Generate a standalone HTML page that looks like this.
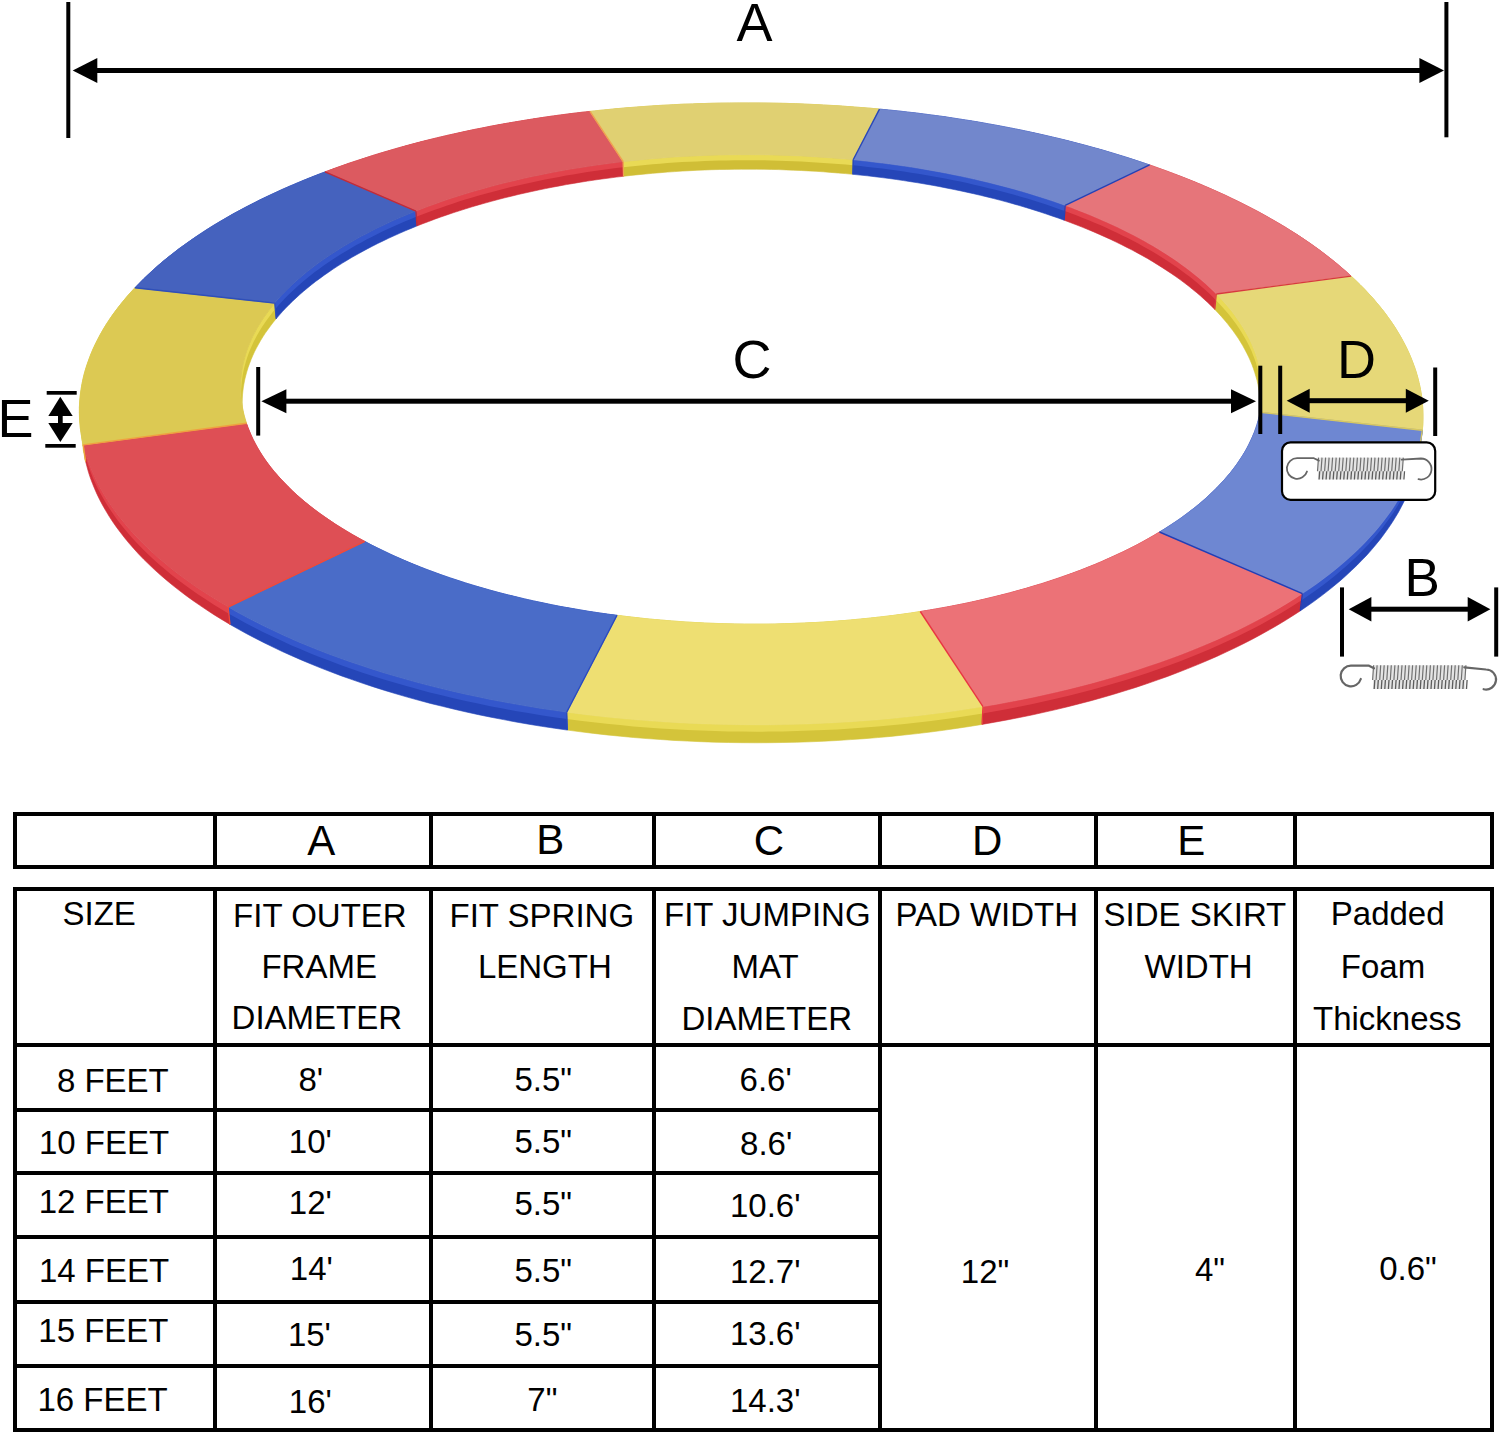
<!DOCTYPE html>
<html><head><meta charset="utf-8"><style>
html,body{margin:0;padding:0;background:#fff;}
body{width:1500px;height:1434px;position:relative;overflow:hidden;font-family:"Liberation Sans",sans-serif;color:#000;}
svg{position:absolute;left:0;top:0;}
.l{position:absolute;background:#000;}
.t{position:absolute;line-height:1;white-space:nowrap;}
.big{position:absolute;line-height:1;white-space:nowrap;}
</style></head><body>
<svg width="1500" height="800" viewBox="0 0 1500 800">
<polygon points="325.0,171.9 332.6,169.1 340.4,166.3 348.2,163.5 356.1,160.9 364.1,158.3 372.1,155.7 380.2,153.2 388.4,150.8 396.6,148.4 404.9,146.1 413.3,143.8 421.7,141.6 430.1,139.5 438.7,137.4 447.2,135.4 455.8,133.5 464.5,131.6 473.2,129.7 482.0,128.0 490.8,126.2 499.6,124.6 508.5,123.0 517.4,121.5 526.4,120.0 535.4,118.6 544.4,117.2 553.4,115.9 562.5,114.7 571.7,113.5 580.8,112.4 590.0,111.4 590.4,125.5 581.2,126.6 572.1,127.7 563.0,128.9 553.9,130.1 544.9,131.4 535.9,132.8 526.9,134.2 518.0,135.7 509.1,137.2 500.3,138.8 491.5,140.5 482.7,142.2 473.9,144.0 465.3,145.9 456.6,147.8 448.0,149.8 439.5,151.8 431.0,153.9 422.6,156.0 414.2,158.2 405.9,160.5 397.6,162.8 389.4,165.2 381.3,167.7 373.2,170.2 365.2,172.8 357.2,175.4 349.3,178.1 341.5,180.9 333.8,183.7 326.2,186.5" fill="#CF2E38" stroke="#CF2E38" stroke-width="0.6"/>
<polygon points="415.9,211.2 421.8,208.9 427.8,206.6 433.8,204.4 439.9,202.2 446.1,200.1 452.3,198.0 458.6,196.0 464.9,194.0 471.3,192.1 477.8,190.2 484.3,188.4 490.8,186.6 497.4,184.8 504.1,183.1 510.8,181.5 517.5,179.9 524.3,178.3 531.1,176.8 538.0,175.4 544.9,174.0 551.9,172.6 558.9,171.3 565.9,170.0 573.0,168.8 580.1,167.7 587.2,166.6 594.3,165.5 601.5,164.5 608.7,163.5 616.0,162.6 623.2,161.7 623.5,176.3 616.3,177.1 609.1,178.1 601.9,179.0 594.7,180.0 587.6,181.1 580.5,182.2 573.4,183.4 566.4,184.6 559.4,185.9 552.4,187.2 545.5,188.6 538.6,190.0 531.7,191.5 524.9,193.0 518.2,194.5 511.4,196.2 504.7,197.8 498.1,199.5 491.5,201.3 485.0,203.1 478.5,204.9 472.1,206.8 465.7,208.8 459.4,210.8 453.1,212.8 446.9,214.9 440.8,217.0 434.7,219.2 428.7,221.5 422.7,223.7 416.9,226.0" fill="#CF2E38" stroke="#CF2E38" stroke-width="0.6"/>
<polygon points="325.0,171.9 332.6,169.1 340.4,166.3 348.2,163.5 356.1,160.9 364.1,158.3 372.1,155.7 380.2,153.2 388.4,150.8 396.6,148.4 404.9,146.1 413.3,143.8 421.7,141.6 430.1,139.5 438.7,137.4 447.2,135.4 455.8,133.5 464.5,131.6 473.2,129.7 482.0,128.0 490.8,126.2 499.6,124.6 508.5,123.0 517.4,121.5 526.4,120.0 535.4,118.6 544.4,117.2 553.4,115.9 562.5,114.7 571.7,113.5 580.8,112.4 590.0,111.4 590.1,116.8 581.0,117.8 571.8,118.9 562.7,120.1 553.6,121.3 544.6,122.6 535.6,124.0 526.6,125.4 517.6,126.9 508.7,128.4 499.9,130.0 491.0,131.7 482.2,133.4 473.5,135.2 464.8,137.0 456.1,138.9 447.5,140.9 439.0,142.9 430.5,145.0 422.0,147.1 413.6,149.3 405.3,151.6 397.0,153.9 388.8,156.3 380.6,158.7 372.5,161.2 364.5,163.8 356.5,166.4 348.7,169.1 340.8,171.8 333.1,174.6 325.4,177.5" fill="#E2434C"/>
<polygon points="415.9,211.2 421.8,208.9 427.8,206.6 433.8,204.4 439.9,202.2 446.1,200.1 452.3,198.0 458.6,196.0 464.9,194.0 471.3,192.1 477.8,190.2 484.3,188.4 490.8,186.6 497.4,184.8 504.1,183.1 510.8,181.5 517.5,179.9 524.3,178.3 531.1,176.8 538.0,175.4 544.9,174.0 551.9,172.6 558.9,171.3 565.9,170.0 573.0,168.8 580.1,167.7 587.2,166.6 594.3,165.5 601.5,164.5 608.7,163.5 616.0,162.6 623.2,161.7 623.4,167.3 616.1,168.1 608.9,169.1 601.7,170.0 594.5,171.0 587.3,172.1 580.2,173.2 573.1,174.4 566.1,175.6 559.1,176.9 552.1,178.2 545.1,179.5 538.2,180.9 531.4,182.4 524.5,183.9 517.8,185.5 511.0,187.1 504.3,188.7 497.7,190.4 491.1,192.2 484.5,194.0 478.0,195.8 471.6,197.7 465.2,199.6 458.9,201.6 452.6,203.7 446.4,205.7 440.3,207.9 434.2,210.0 428.1,212.3 422.2,214.5 416.3,216.8" fill="#E2434C"/>
<polygon points="590.0,111.4 599.2,110.4 608.4,109.5 617.6,108.6 626.9,107.8 636.2,107.1 645.5,106.4 654.8,105.7 664.1,105.2 673.5,104.7 682.8,104.2 692.2,103.9 701.6,103.6 711.0,103.3 720.3,103.1 729.7,103.0 739.1,102.9 748.5,102.9 757.9,102.9 767.3,103.0 776.7,103.2 786.1,103.4 795.5,103.7 804.9,104.1 814.2,104.5 823.6,105.0 833.0,105.5 842.3,106.1 851.6,106.8 860.9,107.5 870.2,108.2 879.5,109.1 879.1,123.2 869.8,122.4 860.6,121.6 851.3,120.9 842.0,120.2 832.7,119.6 823.3,119.1 814.0,118.6 804.7,118.2 795.3,117.8 785.9,117.5 776.6,117.3 767.2,117.1 757.8,117.0 748.5,117.0 739.1,117.0 729.7,117.1 720.4,117.2 711.0,117.4 701.6,117.6 692.3,118.0 683.0,118.3 673.6,118.8 664.3,119.3 655.0,119.9 645.7,120.5 636.4,121.2 627.2,121.9 618.0,122.7 608.7,123.6 599.5,124.5 590.4,125.5" fill="#D0BE36" stroke="#D0BE36" stroke-width="0.6"/>
<polygon points="623.2,161.7 630.5,160.9 637.8,160.2 645.2,159.4 652.5,158.8 659.9,158.2 667.2,157.6 674.6,157.1 682.0,156.6 689.5,156.2 696.9,155.9 704.3,155.5 711.8,155.3 719.3,155.1 726.7,154.9 734.2,154.8 741.7,154.7 749.1,154.7 756.6,154.8 764.1,154.8 771.5,155.0 779.0,155.2 786.5,155.4 793.9,155.7 801.4,156.0 808.8,156.4 816.2,156.9 823.7,157.4 831.1,157.9 838.5,158.5 845.8,159.1 853.2,159.8 852.8,174.3 845.5,173.6 838.1,173.0 830.8,172.4 823.4,171.8 816.0,171.3 808.6,170.9 801.2,170.5 793.7,170.2 786.3,169.9 778.9,169.6 771.4,169.4 764.0,169.3 756.5,169.2 749.1,169.2 741.6,169.2 734.2,169.3 726.7,169.4 719.3,169.5 711.8,169.7 704.4,170.0 697.0,170.3 689.6,170.7 682.2,171.1 674.8,171.6 667.4,172.1 660.1,172.7 652.7,173.3 645.4,174.0 638.1,174.7 630.8,175.4 623.5,176.3" fill="#D0BE36" stroke="#D0BE36" stroke-width="0.6"/>
<polygon points="590.0,111.4 599.2,110.4 608.4,109.5 617.6,108.6 626.9,107.8 636.2,107.1 645.5,106.4 654.8,105.7 664.1,105.2 673.5,104.7 682.8,104.2 692.2,103.9 701.6,103.6 711.0,103.3 720.3,103.1 729.7,103.0 739.1,102.9 748.5,102.9 757.9,102.9 767.3,103.0 776.7,103.2 786.1,103.4 795.5,103.7 804.9,104.1 814.2,104.5 823.6,105.0 833.0,105.5 842.3,106.1 851.6,106.8 860.9,107.5 870.2,108.2 879.5,109.1 879.3,114.5 870.1,113.6 860.8,112.8 851.5,112.1 842.2,111.5 832.8,110.9 823.5,110.3 814.2,109.9 804.8,109.4 795.4,109.1 786.0,108.8 776.7,108.6 767.3,108.4 757.9,108.3 748.5,108.2 739.1,108.3 729.7,108.3 720.4,108.5 711.0,108.7 701.6,108.9 692.2,109.2 682.9,109.6 673.5,110.1 664.2,110.6 654.9,111.1 645.6,111.7 636.3,112.4 627.0,113.2 617.8,114.0 608.5,114.8 599.3,115.8 590.1,116.8" fill="#E9DA55"/>
<polygon points="623.2,161.7 630.5,160.9 637.8,160.2 645.2,159.4 652.5,158.8 659.9,158.2 667.2,157.6 674.6,157.1 682.0,156.6 689.5,156.2 696.9,155.9 704.3,155.5 711.8,155.3 719.3,155.1 726.7,154.9 734.2,154.8 741.7,154.7 749.1,154.7 756.6,154.8 764.1,154.8 771.5,155.0 779.0,155.2 786.5,155.4 793.9,155.7 801.4,156.0 808.8,156.4 816.2,156.9 823.7,157.4 831.1,157.9 838.5,158.5 845.8,159.1 853.2,159.8 853.0,165.3 845.7,164.6 838.3,164.0 831.0,163.4 823.6,162.9 816.1,162.4 808.7,161.9 801.3,161.5 793.9,161.2 786.4,160.9 779.0,160.7 771.5,160.5 764.0,160.3 756.6,160.3 749.1,160.2 741.6,160.2 734.2,160.3 726.7,160.4 719.3,160.6 711.8,160.8 704.4,161.0 696.9,161.4 689.5,161.7 682.1,162.1 674.7,162.6 667.3,163.1 659.9,163.7 652.6,164.3 645.2,165.0 637.9,165.7 630.6,166.5 623.4,167.3" fill="#E9DA55"/>
<polygon points="879.5,109.1 888.7,110.0 898.0,110.9 907.2,112.0 916.4,113.0 925.5,114.2 934.7,115.4 943.8,116.6 952.8,118.0 961.9,119.4 970.9,120.8 979.9,122.3 988.8,123.9 997.7,125.5 1006.6,127.2 1015.4,128.9 1024.2,130.7 1032.9,132.6 1041.6,134.5 1050.2,136.5 1058.8,138.5 1067.3,140.6 1075.8,142.8 1084.3,145.0 1092.6,147.3 1101.0,149.6 1109.2,152.0 1117.4,154.5 1125.6,157.0 1133.6,159.6 1141.6,162.2 1149.6,164.9 1148.3,179.5 1140.4,176.7 1132.5,174.1 1124.4,171.5 1116.3,169.0 1108.1,166.5 1099.9,164.1 1091.6,161.7 1083.2,159.4 1074.8,157.2 1066.4,155.0 1057.9,152.9 1049.3,150.8 1040.7,148.8 1032.0,146.9 1023.3,145.0 1014.6,143.2 1005.8,141.4 996.9,139.7 988.1,138.1 979.1,136.5 970.2,135.0 961.2,133.5 952.2,132.2 943.2,130.8 934.1,129.6 925.0,128.3 915.8,127.2 906.7,126.1 897.5,125.1 888.3,124.1 879.1,123.2" fill="#2546B8" stroke="#2546B8" stroke-width="0.6"/>
<polygon points="853.2,159.8 860.5,160.5 867.8,161.3 875.1,162.2 882.4,163.1 889.7,164.0 896.9,165.0 904.1,166.0 911.3,167.1 918.4,168.2 925.5,169.4 932.6,170.7 939.6,171.9 946.6,173.3 953.6,174.7 960.5,176.1 967.4,177.6 974.3,179.1 981.1,180.7 987.9,182.3 994.6,184.0 1001.3,185.7 1007.9,187.4 1014.5,189.2 1021.0,191.1 1027.5,193.0 1033.9,195.0 1040.3,197.0 1046.6,199.0 1052.9,201.1 1059.1,203.2 1065.2,205.4 1064.2,220.2 1058.1,218.0 1051.9,215.9 1045.7,213.8 1039.4,211.7 1033.0,209.7 1026.6,207.7 1020.2,205.8 1013.6,203.9 1007.1,202.1 1000.5,200.3 993.8,198.6 987.1,196.9 980.4,195.3 973.6,193.7 966.7,192.2 959.9,190.7 952.9,189.3 946.0,187.9 939.0,186.5 932.0,185.2 924.9,184.0 917.8,182.8 910.7,181.7 903.6,180.6 896.4,179.5 889.2,178.5 882.0,177.6 874.7,176.7 867.4,175.8 860.1,175.1 852.8,174.3" fill="#2546B8" stroke="#2546B8" stroke-width="0.6"/>
<polygon points="879.5,109.1 888.7,110.0 898.0,110.9 907.2,112.0 916.4,113.0 925.5,114.2 934.7,115.4 943.8,116.6 952.8,118.0 961.9,119.4 970.9,120.8 979.9,122.3 988.8,123.9 997.7,125.5 1006.6,127.2 1015.4,128.9 1024.2,130.7 1032.9,132.6 1041.6,134.5 1050.2,136.5 1058.8,138.5 1067.3,140.6 1075.8,142.8 1084.3,145.0 1092.6,147.3 1101.0,149.6 1109.2,152.0 1117.4,154.5 1125.6,157.0 1133.6,159.6 1141.6,162.2 1149.6,164.9 1149.1,170.5 1141.2,167.8 1133.2,165.1 1125.1,162.5 1117.0,160.0 1108.8,157.5 1100.6,155.1 1092.2,152.8 1083.9,150.5 1075.5,148.3 1067.0,146.1 1058.4,144.0 1049.9,141.9 1041.2,140.0 1032.6,138.0 1023.8,136.2 1015.1,134.3 1006.3,132.6 997.4,130.9 988.5,129.3 979.6,127.7 970.6,126.2 961.6,124.8 952.6,123.4 943.5,122.0 934.4,120.8 925.3,119.6 916.2,118.4 907.0,117.3 897.8,116.3 888.6,115.4 879.3,114.5" fill="#3457CC"/>
<polygon points="853.2,159.8 860.5,160.5 867.8,161.3 875.1,162.2 882.4,163.1 889.7,164.0 896.9,165.0 904.1,166.0 911.3,167.1 918.4,168.2 925.5,169.4 932.6,170.7 939.6,171.9 946.6,173.3 953.6,174.7 960.5,176.1 967.4,177.6 974.3,179.1 981.1,180.7 987.9,182.3 994.6,184.0 1001.3,185.7 1007.9,187.4 1014.5,189.2 1021.0,191.1 1027.5,193.0 1033.9,195.0 1040.3,197.0 1046.6,199.0 1052.9,201.1 1059.1,203.2 1065.2,205.4 1064.8,211.1 1058.7,208.9 1052.5,206.7 1046.2,204.6 1039.9,202.6 1033.6,200.6 1027.2,198.6 1020.7,196.7 1014.2,194.8 1007.6,193.0 1001.0,191.3 994.3,189.5 987.6,187.9 980.8,186.2 974.0,184.7 967.2,183.1 960.3,181.6 953.4,180.2 946.4,178.8 939.4,177.5 932.4,176.2 925.3,175.0 918.2,173.8 911.0,172.7 903.9,171.6 896.7,170.5 889.5,169.5 882.2,168.6 875.0,167.7 867.7,166.9 860.4,166.1 853.0,165.3" fill="#3457CC"/>
<polygon points="1149.6,164.9 1157.4,167.7 1165.2,170.5 1173.0,173.4 1180.6,176.3 1188.2,179.3 1195.7,182.3 1203.1,185.4 1210.4,188.6 1217.6,191.8 1224.8,195.0 1231.8,198.4 1238.8,201.7 1245.7,205.2 1252.5,208.7 1259.2,212.2 1265.7,215.8 1272.2,219.5 1278.6,223.2 1284.9,226.9 1291.0,230.8 1297.1,234.6 1303.0,238.5 1308.9,242.5 1314.6,246.5 1320.2,250.6 1325.6,254.7 1331.0,258.9 1336.2,263.1 1341.3,267.4 1346.3,271.7 1351.1,276.1 1349.1,291.4 1344.3,287.0 1339.4,282.6 1334.3,278.3 1329.1,274.1 1323.8,269.9 1318.3,265.7 1312.8,261.6 1307.1,257.6 1301.3,253.6 1295.4,249.6 1289.3,245.7 1283.2,241.9 1276.9,238.1 1270.6,234.4 1264.1,230.7 1257.6,227.1 1250.9,223.5 1244.1,220.0 1237.3,216.5 1230.3,213.1 1223.3,209.8 1216.2,206.5 1209.0,203.3 1201.7,200.1 1194.3,197.0 1186.8,193.9 1179.3,190.9 1171.7,187.9 1164.0,185.1 1156.2,182.2 1148.3,179.5" fill="#CF2E38" stroke="#CF2E38" stroke-width="0.6"/>
<polygon points="1065.2,205.4 1071.3,207.6 1077.3,209.9 1083.2,212.2 1089.1,214.6 1094.9,217.0 1100.6,219.5 1106.3,222.0 1111.9,224.5 1117.4,227.1 1122.8,229.7 1128.2,232.4 1133.4,235.1 1138.6,237.8 1143.7,240.6 1148.8,243.5 1153.7,246.3 1158.6,249.3 1163.3,252.2 1168.0,255.2 1172.6,258.2 1177.1,261.3 1181.4,264.4 1185.7,267.6 1189.9,270.7 1194.0,274.0 1198.0,277.2 1201.9,280.5 1205.7,283.8 1209.3,287.2 1212.9,290.6 1216.3,294.0 1214.8,309.4 1211.3,306.0 1207.8,302.6 1204.1,299.2 1200.4,295.8 1196.5,292.5 1192.5,289.3 1188.5,286.0 1184.3,282.8 1180.0,279.6 1175.7,276.5 1171.2,273.4 1166.6,270.4 1162.0,267.4 1157.2,264.4 1152.4,261.4 1147.5,258.5 1142.5,255.7 1137.4,252.9 1132.2,250.1 1126.9,247.4 1121.6,244.7 1116.2,242.1 1110.7,239.4 1105.1,236.9 1099.5,234.4 1093.8,231.9 1088.0,229.5 1082.1,227.1 1076.2,224.8 1070.2,222.5 1064.2,220.2" fill="#CF2E38" stroke="#CF2E38" stroke-width="0.6"/>
<polygon points="1149.6,164.9 1157.4,167.7 1165.2,170.5 1173.0,173.4 1180.6,176.3 1188.2,179.3 1195.7,182.3 1203.1,185.4 1210.4,188.6 1217.6,191.8 1224.8,195.0 1231.8,198.4 1238.8,201.7 1245.7,205.2 1252.5,208.7 1259.2,212.2 1265.7,215.8 1272.2,219.5 1278.6,223.2 1284.9,226.9 1291.0,230.8 1297.1,234.6 1303.0,238.5 1308.9,242.5 1314.6,246.5 1320.2,250.6 1325.6,254.7 1331.0,258.9 1336.2,263.1 1341.3,267.4 1346.3,271.7 1351.1,276.1 1350.3,281.9 1345.5,277.5 1340.6,273.2 1335.5,268.9 1330.3,264.7 1324.9,260.5 1319.5,256.4 1313.9,252.3 1308.2,248.2 1302.4,244.3 1296.4,240.3 1290.4,236.5 1284.2,232.6 1278.0,228.9 1271.6,225.1 1265.1,221.5 1258.6,217.9 1251.9,214.3 1245.1,210.8 1238.2,207.4 1231.3,204.0 1224.2,200.7 1217.1,197.4 1209.9,194.2 1202.5,191.0 1195.1,187.9 1187.7,184.8 1180.1,181.8 1172.5,178.9 1164.8,176.0 1157.0,173.2 1149.1,170.5" fill="#E2434C"/>
<polygon points="1065.2,205.4 1071.3,207.6 1077.3,209.9 1083.2,212.2 1089.1,214.6 1094.9,217.0 1100.6,219.5 1106.3,222.0 1111.9,224.5 1117.4,227.1 1122.8,229.7 1128.2,232.4 1133.4,235.1 1138.6,237.8 1143.7,240.6 1148.8,243.5 1153.7,246.3 1158.6,249.3 1163.3,252.2 1168.0,255.2 1172.6,258.2 1177.1,261.3 1181.4,264.4 1185.7,267.6 1189.9,270.7 1194.0,274.0 1198.0,277.2 1201.9,280.5 1205.7,283.8 1209.3,287.2 1212.9,290.6 1216.3,294.0 1215.7,299.9 1212.3,296.5 1208.7,293.1 1205.1,289.7 1201.3,286.4 1197.4,283.1 1193.5,279.8 1189.4,276.6 1185.2,273.4 1180.9,270.2 1176.5,267.1 1172.0,264.0 1167.5,261.0 1162.8,258.0 1158.1,255.0 1153.2,252.1 1148.3,249.2 1143.3,246.4 1138.2,243.6 1133.0,240.8 1127.7,238.1 1122.3,235.4 1116.9,232.8 1111.4,230.2 1105.8,227.6 1100.2,225.1 1094.5,222.7 1088.7,220.3 1082.8,217.9 1076.9,215.6 1070.9,213.3 1064.8,211.1" fill="#E2434C"/>
<polygon points="1351.1,276.1 1355.8,280.5 1360.3,284.9 1364.8,289.4 1369.0,294.0 1373.2,298.6 1377.1,303.2 1381.0,307.9 1384.7,312.6 1388.2,317.4 1391.6,322.2 1394.8,327.0 1397.8,331.9 1400.7,336.8 1403.4,341.8 1406.0,346.7 1408.4,351.8 1410.6,356.8 1412.6,361.9 1414.5,367.0 1416.2,372.1 1417.7,377.3 1419.0,382.5 1420.2,387.7 1421.1,393.0 1421.9,398.2 1422.4,403.5 1422.8,408.8 1423.0,414.2 1423.0,419.5 1422.8,424.9 1422.3,430.2 1419.9,446.5 1420.3,441.1 1420.6,435.7 1420.6,430.4 1420.4,425.0 1420.1,419.7 1419.5,414.3 1418.8,409.0 1417.8,403.7 1416.7,398.5 1415.4,393.3 1413.9,388.1 1412.2,382.9 1410.4,377.7 1408.3,372.6 1406.1,367.5 1403.8,362.5 1401.2,357.5 1398.5,352.5 1395.6,347.6 1392.6,342.7 1389.4,337.8 1386.0,333.0 1382.5,328.2 1378.9,323.4 1375.1,318.7 1371.1,314.0 1367.0,309.4 1362.7,304.8 1358.3,300.3 1353.8,295.8 1349.1,291.4" fill="#D4C43A" stroke="#D4C43A" stroke-width="0.6"/>
<polygon points="1216.3,294.0 1219.7,297.5 1222.9,301.0 1226.0,304.5 1229.0,308.0 1231.9,311.6 1234.6,315.2 1237.2,318.9 1239.7,322.5 1242.1,326.2 1244.4,329.9 1246.5,333.7 1248.5,337.4 1250.4,341.2 1252.1,345.0 1253.7,348.9 1255.2,352.7 1256.5,356.6 1257.7,360.5 1258.7,364.4 1259.7,368.3 1260.4,372.3 1261.1,376.2 1261.5,380.2 1261.9,384.2 1262.1,388.2 1262.1,392.2 1262.0,396.2 1261.7,400.2 1261.3,404.2 1260.8,408.2 1260.1,412.3 1258.2,428.5 1259.0,424.4 1259.5,420.3 1259.9,416.3 1260.2,412.3 1260.3,408.2 1260.3,404.2 1260.1,400.2 1259.7,396.2 1259.3,392.2 1258.6,388.2 1257.9,384.2 1257.0,380.3 1255.9,376.4 1254.7,372.4 1253.4,368.5 1252.0,364.7 1250.4,360.8 1248.7,357.0 1246.8,353.2 1244.8,349.4 1242.7,345.6 1240.5,341.9 1238.1,338.1 1235.6,334.5 1233.0,330.8 1230.2,327.2 1227.4,323.6 1224.4,320.0 1221.3,316.4 1218.1,312.9 1214.8,309.4" fill="#D4C43A" stroke="#D4C43A" stroke-width="0.6"/>
<polygon points="1351.1,276.1 1355.8,280.5 1360.3,284.9 1364.8,289.4 1369.0,294.0 1373.2,298.6 1377.1,303.2 1381.0,307.9 1384.7,312.6 1388.2,317.4 1391.6,322.2 1394.8,327.0 1397.8,331.9 1400.7,336.8 1403.4,341.8 1406.0,346.7 1408.4,351.8 1410.6,356.8 1412.6,361.9 1414.5,367.0 1416.2,372.1 1417.7,377.3 1419.0,382.5 1420.2,387.7 1421.1,393.0 1421.9,398.2 1422.4,403.5 1422.8,408.8 1423.0,414.2 1423.0,419.5 1422.8,424.9 1422.3,430.2 1421.4,436.4 1421.8,431.1 1422.1,425.7 1422.1,420.3 1421.9,415.0 1421.5,409.7 1421.0,404.4 1420.2,399.1 1419.3,393.8 1418.1,388.6 1416.8,383.4 1415.3,378.2 1413.6,373.0 1411.8,367.9 1409.7,362.8 1407.5,357.8 1405.1,352.7 1402.6,347.7 1399.9,342.8 1397.0,337.9 1393.9,333.0 1390.7,328.1 1387.4,323.3 1383.8,318.5 1380.2,313.8 1376.3,309.1 1372.4,304.5 1368.2,299.9 1364.0,295.3 1359.6,290.8 1355.0,286.3 1350.3,281.9" fill="#E9DA55"/>
<polygon points="1216.3,294.0 1219.7,297.5 1222.9,301.0 1226.0,304.5 1229.0,308.0 1231.9,311.6 1234.6,315.2 1237.2,318.9 1239.7,322.5 1242.1,326.2 1244.4,329.9 1246.5,333.7 1248.5,337.4 1250.4,341.2 1252.1,345.0 1253.7,348.9 1255.2,352.7 1256.5,356.6 1257.7,360.5 1258.7,364.4 1259.7,368.3 1260.4,372.3 1261.1,376.2 1261.5,380.2 1261.9,384.2 1262.1,388.2 1262.1,392.2 1262.0,396.2 1261.7,400.2 1261.3,404.2 1260.8,408.2 1260.1,412.3 1259.4,418.4 1260.1,414.4 1260.6,410.4 1261.1,406.3 1261.3,402.3 1261.4,398.3 1261.4,394.3 1261.2,390.3 1260.9,386.3 1260.4,382.3 1259.8,378.3 1259.0,374.4 1258.1,370.4 1257.0,366.5 1255.8,362.6 1254.5,358.7 1253.0,354.9 1251.5,351.0 1249.7,347.2 1247.9,343.4 1245.9,339.7 1243.7,335.9 1241.5,332.2 1239.1,328.5 1236.6,324.8 1234.0,321.2 1231.2,317.5 1228.4,314.0 1225.4,310.4 1222.3,306.9 1219.1,303.4 1215.7,299.9" fill="#E9DA55"/>
<polygon points="1422.3,430.2 1421.7,435.6 1420.9,441.0 1419.8,446.4 1418.6,451.8 1417.2,457.3 1415.5,462.7 1413.6,468.1 1411.5,473.5 1409.2,479.0 1406.7,484.4 1403.9,489.8 1401.0,495.2 1397.8,500.6 1394.4,506.0 1390.8,511.4 1386.9,516.7 1382.9,522.0 1378.6,527.4 1374.1,532.7 1369.3,537.9 1364.4,543.2 1359.2,548.4 1353.8,553.6 1348.1,558.7 1342.3,563.8 1336.2,568.9 1329.9,573.9 1323.3,578.9 1316.6,583.9 1309.6,588.8 1302.4,593.6 1300.2,610.9 1307.4,606.0 1314.4,601.1 1321.1,596.1 1327.6,591.1 1333.9,586.0 1340.0,580.9 1345.8,575.8 1351.4,570.6 1356.8,565.4 1362.0,560.1 1367.0,554.9 1371.7,549.6 1376.2,544.2 1380.5,538.9 1384.5,533.5 1388.4,528.1 1392.0,522.7 1395.4,517.3 1398.6,511.9 1401.5,506.4 1404.3,501.0 1406.8,495.5 1409.1,490.1 1411.2,484.6 1413.1,479.2 1414.7,473.7 1416.2,468.3 1417.4,462.8 1418.5,457.4 1419.3,452.0 1419.9,446.5" fill="#2546B8" stroke="#2546B8" stroke-width="0.6"/>
<polygon points="1260.1,412.3 1259.2,416.3 1258.2,420.3 1257.0,424.4 1255.7,428.4 1254.2,432.5 1252.5,436.5 1250.7,440.5 1248.8,444.5 1246.7,448.6 1244.4,452.6 1241.9,456.6 1239.3,460.5 1236.6,464.5 1233.6,468.5 1230.6,472.4 1227.3,476.3 1223.9,480.2 1220.3,484.1 1216.6,488.0 1212.7,491.8 1208.7,495.6 1204.5,499.4 1200.1,503.2 1195.6,506.9 1190.9,510.6 1186.1,514.2 1181.1,517.9 1175.9,521.5 1170.6,525.0 1165.2,528.5 1159.5,532.0 1158.0,548.9 1163.5,545.4 1169.0,541.9 1174.3,538.3 1179.4,534.7 1184.4,531.0 1189.2,527.4 1193.9,523.6 1198.4,519.9 1202.8,516.1 1206.9,512.3 1211.0,508.5 1214.9,504.6 1218.6,500.7 1222.1,496.8 1225.5,492.9 1228.8,489.0 1231.8,485.0 1234.8,481.0 1237.5,477.0 1240.1,473.0 1242.6,469.0 1244.8,465.0 1247.0,460.9 1248.9,456.9 1250.7,452.8 1252.4,448.8 1253.8,444.7 1255.2,440.6 1256.4,436.6 1257.4,432.5 1258.2,428.5" fill="#2546B8" stroke="#2546B8" stroke-width="0.6"/>
<polygon points="1422.3,430.2 1421.7,435.6 1420.9,441.0 1419.8,446.4 1418.6,451.8 1417.2,457.3 1415.5,462.7 1413.6,468.1 1411.5,473.5 1409.2,479.0 1406.7,484.4 1403.9,489.8 1401.0,495.2 1397.8,500.6 1394.4,506.0 1390.8,511.4 1386.9,516.7 1382.9,522.0 1378.6,527.4 1374.1,532.7 1369.3,537.9 1364.4,543.2 1359.2,548.4 1353.8,553.6 1348.1,558.7 1342.3,563.8 1336.2,568.9 1329.9,573.9 1323.3,578.9 1316.6,583.9 1309.6,588.8 1302.4,593.6 1301.6,600.2 1308.8,595.3 1315.7,590.4 1322.5,585.5 1329.0,580.5 1335.3,575.4 1341.4,570.3 1347.2,565.2 1352.9,560.1 1358.3,554.9 1363.5,549.6 1368.4,544.4 1373.2,539.1 1377.7,533.8 1382.0,528.5 1386.0,523.1 1389.9,517.7 1393.5,512.4 1396.9,507.0 1400.1,501.6 1403.0,496.1 1405.8,490.7 1408.3,485.3 1410.6,479.8 1412.7,474.4 1414.6,469.0 1416.2,463.5 1417.7,458.1 1418.9,452.7 1420.0,447.3 1420.8,441.8 1421.4,436.4" fill="#3457CC"/>
<polygon points="1260.1,412.3 1259.2,416.3 1258.2,420.3 1257.0,424.4 1255.7,428.4 1254.2,432.5 1252.5,436.5 1250.7,440.5 1248.8,444.5 1246.7,448.6 1244.4,452.6 1241.9,456.6 1239.3,460.5 1236.6,464.5 1233.6,468.5 1230.6,472.4 1227.3,476.3 1223.9,480.2 1220.3,484.1 1216.6,488.0 1212.7,491.8 1208.7,495.6 1204.5,499.4 1200.1,503.2 1195.6,506.9 1190.9,510.6 1186.1,514.2 1181.1,517.9 1175.9,521.5 1170.6,525.0 1165.2,528.5 1159.5,532.0 1158.9,538.4 1164.5,535.0 1170.0,531.4 1175.3,527.9 1180.4,524.3 1185.4,520.6 1190.3,517.0 1194.9,513.3 1199.5,509.5 1203.8,505.8 1208.0,502.0 1212.1,498.2 1215.9,494.3 1219.7,490.4 1223.2,486.5 1226.6,482.6 1229.9,478.7 1233.0,474.8 1235.9,470.8 1238.6,466.8 1241.2,462.8 1243.7,458.8 1246.0,454.8 1248.1,450.8 1250.0,446.8 1251.8,442.7 1253.5,438.7 1255.0,434.6 1256.3,430.6 1257.5,426.5 1258.5,422.5 1259.4,418.4" fill="#3457CC"/>
<polygon points="1302.4,593.6 1295.0,598.4 1287.4,603.2 1279.5,607.9 1271.5,612.5 1263.2,617.1 1254.7,621.6 1246.0,626.0 1237.1,630.4 1228.0,634.6 1218.7,638.9 1209.2,643.0 1199.5,647.1 1189.7,651.1 1179.6,655.0 1169.3,658.8 1158.9,662.5 1148.2,666.1 1137.4,669.7 1126.5,673.1 1115.3,676.5 1104.0,679.8 1092.6,682.9 1080.9,686.0 1069.2,688.9 1057.3,691.8 1045.2,694.5 1033.0,697.2 1020.7,699.7 1008.3,702.1 995.7,704.4 983.0,706.6 982.0,724.4 994.6,722.2 1007.1,719.9 1019.5,717.5 1031.8,715.0 1043.9,712.3 1055.9,709.6 1067.8,706.7 1079.5,703.7 1091.1,700.7 1102.5,697.5 1113.8,694.2 1124.9,690.8 1135.8,687.4 1146.6,683.8 1157.2,680.1 1167.6,676.4 1177.8,672.5 1187.8,668.6 1197.7,664.6 1207.4,660.5 1216.8,656.4 1226.1,652.1 1235.2,647.8 1244.0,643.4 1252.7,639.0 1261.1,634.4 1269.4,629.8 1277.4,625.2 1285.2,620.5 1292.8,615.7 1300.2,610.9" fill="#CF2E38" stroke="#CF2E38" stroke-width="0.6"/>
<polygon points="1159.5,532.0 1153.8,535.4 1147.9,538.8 1141.8,542.2 1135.6,545.5 1129.2,548.7 1122.7,551.9 1116.1,555.0 1109.3,558.1 1102.4,561.2 1095.4,564.2 1088.2,567.1 1080.9,570.0 1073.4,572.8 1065.8,575.5 1058.1,578.2 1050.3,580.8 1042.4,583.4 1034.3,585.8 1026.1,588.3 1017.8,590.6 1009.4,592.9 1000.9,595.1 992.3,597.2 983.6,599.3 974.9,601.3 966.0,603.2 957.0,605.0 947.9,606.8 938.8,608.4 929.6,610.0 920.3,611.5 919.5,628.9 928.8,627.4 938.0,625.8 947.1,624.1 956.1,622.3 965.1,620.5 973.9,618.6 982.7,616.6 991.3,614.5 999.9,612.4 1008.4,610.1 1016.7,607.9 1025.0,605.5 1033.1,603.1 1041.2,600.6 1049.1,598.0 1056.9,595.4 1064.6,592.7 1072.1,589.9 1079.5,587.1 1086.8,584.2 1094.0,581.3 1101.0,578.3 1107.9,575.2 1114.7,572.1 1121.3,568.9 1127.8,565.7 1134.1,562.4 1140.3,559.1 1146.3,555.8 1152.2,552.4 1158.0,548.9" fill="#CF2E38" stroke="#CF2E38" stroke-width="0.6"/>
<polygon points="1302.4,593.6 1295.0,598.4 1287.4,603.2 1279.5,607.9 1271.5,612.5 1263.2,617.1 1254.7,621.6 1246.0,626.0 1237.1,630.4 1228.0,634.6 1218.7,638.9 1209.2,643.0 1199.5,647.1 1189.7,651.1 1179.6,655.0 1169.3,658.8 1158.9,662.5 1148.2,666.1 1137.4,669.7 1126.5,673.1 1115.3,676.5 1104.0,679.8 1092.6,682.9 1080.9,686.0 1069.2,688.9 1057.3,691.8 1045.2,694.5 1033.0,697.2 1020.7,699.7 1008.3,702.1 995.7,704.4 983.0,706.6 982.6,713.4 995.3,711.2 1007.8,708.9 1020.3,706.5 1032.6,703.9 1044.7,701.3 1056.8,698.6 1068.7,695.7 1080.4,692.7 1092.0,689.7 1103.5,686.5 1114.7,683.2 1125.9,679.9 1136.8,676.4 1147.6,672.9 1158.2,669.2 1168.7,665.5 1178.9,661.7 1189.0,657.8 1198.8,653.8 1208.5,649.7 1218.0,645.5 1227.3,641.3 1236.4,637.0 1245.3,632.6 1253.9,628.2 1262.4,623.7 1270.7,619.1 1278.7,614.5 1286.6,609.8 1294.2,605.0 1301.6,600.2" fill="#E2434C"/>
<polygon points="1159.5,532.0 1153.8,535.4 1147.9,538.8 1141.8,542.2 1135.6,545.5 1129.2,548.7 1122.7,551.9 1116.1,555.0 1109.3,558.1 1102.4,561.2 1095.4,564.2 1088.2,567.1 1080.9,570.0 1073.4,572.8 1065.8,575.5 1058.1,578.2 1050.3,580.8 1042.4,583.4 1034.3,585.8 1026.1,588.3 1017.8,590.6 1009.4,592.9 1000.9,595.1 992.3,597.2 983.6,599.3 974.9,601.3 966.0,603.2 957.0,605.0 947.9,606.8 938.8,608.4 929.6,610.0 920.3,611.5 920.0,618.1 929.3,616.6 938.5,615.0 947.6,613.4 956.7,611.6 965.6,609.8 974.5,607.9 983.3,605.9 992.0,603.8 1000.6,601.7 1009.0,599.5 1017.4,597.2 1025.7,594.8 1033.9,592.4 1041.9,589.9 1049.8,587.4 1057.6,584.7 1065.3,582.0 1072.9,579.3 1080.3,576.5 1087.7,573.6 1094.8,570.7 1101.9,567.7 1108.8,564.6 1115.6,561.5 1122.2,558.4 1128.7,555.2 1135.0,551.9 1141.2,548.6 1147.3,545.3 1153.2,541.9 1158.9,538.4" fill="#E2434C"/>
<polygon points="983.0,706.6 970.2,708.6 957.3,710.6 944.4,712.4 931.3,714.1 918.1,715.7 904.9,717.1 891.6,718.5 878.2,719.7 864.7,720.7 851.2,721.7 837.7,722.5 824.1,723.2 810.5,723.8 796.8,724.3 783.2,724.6 769.5,724.8 755.8,724.8 742.1,724.7 728.4,724.5 714.7,724.2 701.0,723.7 687.4,723.2 673.8,722.4 660.2,721.6 646.7,720.6 633.2,719.5 619.8,718.3 606.4,717.0 593.1,715.5 579.9,713.9 566.7,712.2 567.4,730.1 580.5,731.8 593.7,733.4 606.9,734.9 620.2,736.2 633.6,737.5 647.0,738.6 660.5,739.5 674.0,740.4 687.6,741.1 701.1,741.7 714.8,742.2 728.4,742.5 742.0,742.7 755.7,742.8 769.3,742.7 782.9,742.5 796.6,742.2 810.2,741.8 823.7,741.2 837.3,740.5 850.7,739.6 864.2,738.7 877.6,737.6 890.9,736.4 904.2,735.0 917.4,733.6 930.5,732.0 943.5,730.3 956.4,728.4 969.3,726.5 982.0,724.4" fill="#D4C43A" stroke="#D4C43A" stroke-width="0.6"/>
<polygon points="920.3,611.5 910.9,613.0 901.5,614.3 892.0,615.6 882.4,616.7 872.8,617.8 863.1,618.8 853.4,619.7 843.7,620.6 833.9,621.3 824.0,622.0 814.2,622.6 804.3,623.0 794.4,623.4 784.5,623.7 774.5,624.0 764.6,624.1 754.6,624.1 744.6,624.1 734.7,623.9 724.7,623.7 714.8,623.4 704.9,623.0 695.0,622.5 685.1,621.9 675.2,621.2 665.4,620.4 655.6,619.6 645.9,618.7 636.2,617.6 626.6,616.5 617.0,615.3 617.4,632.7 626.9,633.9 636.6,635.1 646.2,636.1 655.9,637.0 665.7,637.9 675.4,638.6 685.3,639.3 695.1,639.9 705.0,640.4 714.9,640.8 724.8,641.1 734.7,641.4 744.6,641.5 754.5,641.6 764.4,641.5 774.3,641.4 784.2,641.2 794.1,640.9 804.0,640.5 813.9,640.0 823.7,639.4 833.5,638.7 843.2,638.0 852.9,637.2 862.6,636.2 872.2,635.2 881.8,634.1 891.3,632.9 900.8,631.7 910.2,630.3 919.5,628.9" fill="#D4C43A" stroke="#D4C43A" stroke-width="0.6"/>
<polygon points="983.0,706.6 970.2,708.6 957.3,710.6 944.4,712.4 931.3,714.1 918.1,715.7 904.9,717.1 891.6,718.5 878.2,719.7 864.7,720.7 851.2,721.7 837.7,722.5 824.1,723.2 810.5,723.8 796.8,724.3 783.2,724.6 769.5,724.8 755.8,724.8 742.1,724.7 728.4,724.5 714.7,724.2 701.0,723.7 687.4,723.2 673.8,722.4 660.2,721.6 646.7,720.6 633.2,719.5 619.8,718.3 606.4,717.0 593.1,715.5 579.9,713.9 566.7,712.2 567.0,719.0 580.1,720.7 593.3,722.3 606.6,723.8 619.9,725.1 633.3,726.4 646.8,727.5 660.3,728.4 673.9,729.3 687.5,730.0 701.1,730.6 714.7,731.0 728.4,731.4 742.1,731.6 755.7,731.7 769.4,731.6 783.1,731.4 796.7,731.1 810.4,730.6 824.0,730.1 837.5,729.4 851.0,728.5 864.5,727.6 877.9,726.5 891.3,725.3 904.6,723.9 917.8,722.5 931.0,720.9 944.0,719.2 957.0,717.4 969.9,715.4 982.6,713.4" fill="#E9DA55"/>
<polygon points="920.3,611.5 910.9,613.0 901.5,614.3 892.0,615.6 882.4,616.7 872.8,617.8 863.1,618.8 853.4,619.7 843.7,620.6 833.9,621.3 824.0,622.0 814.2,622.6 804.3,623.0 794.4,623.4 784.5,623.7 774.5,624.0 764.6,624.1 754.6,624.1 744.6,624.1 734.7,623.9 724.7,623.7 714.8,623.4 704.9,623.0 695.0,622.5 685.1,621.9 675.2,621.2 665.4,620.4 655.6,619.6 645.9,618.7 636.2,617.6 626.6,616.5 617.0,615.3 617.1,622.0 626.7,623.2 636.3,624.3 646.0,625.3 655.7,626.2 665.5,627.1 675.3,627.8 685.2,628.5 695.0,629.1 704.9,629.6 714.8,630.0 724.7,630.3 734.7,630.6 744.6,630.7 754.6,630.8 764.5,630.7 774.4,630.6 784.4,630.4 794.3,630.1 804.2,629.7 814.1,629.2 823.9,628.6 833.7,628.0 843.5,627.2 853.2,626.4 862.9,625.5 872.6,624.5 882.2,623.4 891.7,622.2 901.2,620.9 910.6,619.6 920.0,618.1" fill="#E9DA55"/>
<polygon points="566.7,712.2 553.7,710.3 540.7,708.4 527.9,706.3 515.1,704.1 502.5,701.8 490.0,699.4 477.5,696.8 465.3,694.2 453.1,691.4 441.1,688.6 429.2,685.6 417.5,682.5 406.0,679.3 394.5,676.0 383.3,672.7 372.2,669.2 361.3,665.6 350.5,662.0 340.0,658.2 329.6,654.4 319.4,650.5 309.4,646.5 299.5,642.4 289.9,638.2 280.5,634.0 271.2,629.6 262.2,625.3 253.4,620.8 244.7,616.3 236.3,611.7 228.1,607.0 230.0,624.4 238.2,629.1 246.6,633.7 255.2,638.2 264.0,642.7 273.0,647.1 282.2,651.5 291.6,655.7 301.2,659.9 311.0,664.0 321.0,668.1 331.2,672.0 341.5,675.9 352.0,679.6 362.7,683.3 373.6,686.9 384.7,690.4 395.9,693.8 407.2,697.1 418.8,700.3 430.4,703.4 442.3,706.3 454.2,709.2 466.3,712.0 478.6,714.7 490.9,717.2 503.4,719.6 516.0,722.0 528.7,724.2 541.5,726.3 554.4,728.2 567.4,730.1" fill="#2546B8" stroke="#2546B8" stroke-width="0.6"/>
<polygon points="617.0,615.3 607.4,614.1 597.9,612.7 588.5,611.3 579.2,609.7 569.9,608.1 560.7,606.5 551.6,604.7 542.6,602.8 533.6,600.9 524.7,598.9 516.0,596.8 507.3,594.7 498.7,592.5 490.3,590.2 481.9,587.8 473.7,585.4 465.5,582.9 457.5,580.3 449.6,577.7 441.8,575.0 434.2,572.2 426.6,569.4 419.2,566.5 411.9,563.6 404.8,560.6 397.8,557.5 390.9,554.4 384.2,551.2 377.6,548.0 371.1,544.8 364.8,541.4 366.2,558.4 372.5,561.8 378.9,565.1 385.5,568.3 392.2,571.5 399.0,574.6 406.0,577.7 413.1,580.7 420.4,583.6 427.8,586.5 435.3,589.4 442.9,592.2 450.7,594.9 458.5,597.5 466.5,600.1 474.6,602.6 482.9,605.1 491.2,607.4 499.6,609.8 508.2,612.0 516.8,614.1 525.5,616.2 534.4,618.2 543.3,620.2 552.3,622.0 561.4,623.8 570.5,625.5 579.8,627.1 589.1,628.6 598.4,630.1 607.9,631.5 617.4,632.7" fill="#2546B8" stroke="#2546B8" stroke-width="0.6"/>
<polygon points="566.7,712.2 553.7,710.3 540.7,708.4 527.9,706.3 515.1,704.1 502.5,701.8 490.0,699.4 477.5,696.8 465.3,694.2 453.1,691.4 441.1,688.6 429.2,685.6 417.5,682.5 406.0,679.3 394.5,676.0 383.3,672.7 372.2,669.2 361.3,665.6 350.5,662.0 340.0,658.2 329.6,654.4 319.4,650.5 309.4,646.5 299.5,642.4 289.9,638.2 280.5,634.0 271.2,629.6 262.2,625.3 253.4,620.8 244.7,616.3 236.3,611.7 228.1,607.0 228.8,613.7 237.0,618.3 245.4,622.9 254.1,627.4 262.9,631.9 271.9,636.3 281.1,640.6 290.5,644.9 300.2,649.1 310.0,653.2 320.0,657.2 330.2,661.1 340.5,664.9 351.1,668.7 361.8,672.4 372.7,675.9 383.8,679.4 395.0,682.8 406.4,686.1 418.0,689.3 429.7,692.4 441.6,695.3 453.5,698.2 465.7,701.0 477.9,703.6 490.3,706.2 502.8,708.6 515.5,710.9 528.2,713.1 541.0,715.2 554.0,717.2 567.0,719.0" fill="#3457CC"/>
<polygon points="617.0,615.3 607.4,614.1 597.9,612.7 588.5,611.3 579.2,609.7 569.9,608.1 560.7,606.5 551.6,604.7 542.6,602.8 533.6,600.9 524.7,598.9 516.0,596.8 507.3,594.7 498.7,592.5 490.3,590.2 481.9,587.8 473.7,585.4 465.5,582.9 457.5,580.3 449.6,577.7 441.8,575.0 434.2,572.2 426.6,569.4 419.2,566.5 411.9,563.6 404.8,560.6 397.8,557.5 390.9,554.4 384.2,551.2 377.6,548.0 371.1,544.8 364.8,541.4 365.4,547.9 371.7,551.2 378.1,554.5 384.7,557.7 391.4,560.9 398.3,564.0 405.3,567.1 412.4,570.1 419.7,573.0 427.1,575.9 434.6,578.8 442.2,581.5 450.0,584.2 457.9,586.9 465.9,589.4 474.0,592.0 482.3,594.4 490.6,596.8 499.1,599.1 507.6,601.3 516.3,603.4 525.0,605.5 533.9,607.5 542.8,609.4 551.9,611.3 561.0,613.1 570.1,614.8 579.4,616.4 588.7,617.9 598.1,619.3 607.6,620.7 617.1,622.0" fill="#3457CC"/>
<polygon points="228.1,607.0 220.1,602.3 212.3,597.6 204.8,592.7 197.4,587.9 190.3,582.9 183.4,578.0 176.7,573.0 170.3,567.9 164.1,562.8 158.0,557.7 152.3,552.5 146.7,547.3 141.4,542.0 136.2,536.8 131.4,531.5 126.7,526.2 122.3,520.8 118.0,515.5 114.0,510.1 110.3,504.7 106.7,499.3 103.4,493.9 100.3,488.4 97.4,483.0 94.8,477.6 92.3,472.1 90.1,466.7 88.1,461.2 86.3,455.8 84.7,450.4 83.3,444.9 85.6,461.4 87.0,466.8 88.5,472.3 90.3,477.8 92.4,483.3 94.6,488.7 97.0,494.2 99.7,499.7 102.6,505.2 105.7,510.6 109.0,516.1 112.5,521.5 116.3,526.9 120.3,532.3 124.5,537.7 128.9,543.1 133.6,548.4 138.4,553.8 143.5,559.1 148.9,564.3 154.4,569.6 160.2,574.8 166.2,579.9 172.4,585.1 178.8,590.1 185.5,595.2 192.4,600.2 199.5,605.1 206.8,610.0 214.3,614.9 222.1,619.7 230.0,624.4" fill="#CF2E38" stroke="#CF2E38" stroke-width="0.6"/>
<polygon points="364.8,541.4 358.7,538.1 352.7,534.7 346.8,531.2 341.1,527.7 335.5,524.2 330.1,520.6 324.9,517.0 319.8,513.4 314.8,509.7 310.0,506.0 305.4,502.3 300.9,498.5 296.6,494.7 292.5,490.9 288.5,487.0 284.7,483.1 281.0,479.2 277.5,475.3 274.1,471.4 270.9,467.4 267.9,463.5 265.0,459.5 262.3,455.5 259.8,451.5 257.4,447.4 255.2,443.4 253.1,439.4 251.2,435.3 249.5,431.3 247.9,427.3 246.4,423.2 248.1,439.5 249.6,443.6 251.1,447.7 252.9,451.7 254.8,455.8 256.9,459.8 259.1,463.9 261.5,467.9 264.0,472.0 266.7,476.0 269.6,480.0 272.6,484.0 275.8,488.0 279.1,491.9 282.6,495.9 286.3,499.8 290.1,503.7 294.1,507.6 298.2,511.4 302.5,515.2 307.0,519.0 311.6,522.8 316.3,526.5 321.3,530.2 326.4,533.9 331.6,537.5 337.0,541.1 342.5,544.7 348.2,548.2 354.1,551.6 360.1,555.1 366.2,558.4" fill="#CF2E38" stroke="#CF2E38" stroke-width="0.6"/>
<polygon points="228.1,607.0 220.1,602.3 212.3,597.6 204.8,592.7 197.4,587.9 190.3,582.9 183.4,578.0 176.7,573.0 170.3,567.9 164.1,562.8 158.0,557.7 152.3,552.5 146.7,547.3 141.4,542.0 136.2,536.8 131.4,531.5 126.7,526.2 122.3,520.8 118.0,515.5 114.0,510.1 110.3,504.7 106.7,499.3 103.4,493.9 100.3,488.4 97.4,483.0 94.8,477.6 92.3,472.1 90.1,466.7 88.1,461.2 86.3,455.8 84.7,450.4 83.3,444.9 84.2,451.2 85.5,456.6 87.1,462.1 88.9,467.5 91.0,473.0 93.2,478.5 95.6,483.9 98.3,489.4 101.2,494.8 104.3,500.2 107.6,505.7 111.1,511.1 114.9,516.5 118.9,521.9 123.1,527.3 127.5,532.6 132.2,537.9 137.1,543.2 142.2,548.5 147.5,553.8 153.1,559.0 158.9,564.2 164.9,569.3 171.1,574.4 177.5,579.5 184.2,584.5 191.1,589.5 198.2,594.4 205.6,599.3 213.1,604.2 220.9,608.9 228.8,613.7" fill="#E2434C"/>
<polygon points="364.8,541.4 358.7,538.1 352.7,534.7 346.8,531.2 341.1,527.7 335.5,524.2 330.1,520.6 324.9,517.0 319.8,513.4 314.8,509.7 310.0,506.0 305.4,502.3 300.9,498.5 296.6,494.7 292.5,490.9 288.5,487.0 284.7,483.1 281.0,479.2 277.5,475.3 274.1,471.4 270.9,467.4 267.9,463.5 265.0,459.5 262.3,455.5 259.8,451.5 257.4,447.4 255.2,443.4 253.1,439.4 251.2,435.3 249.5,431.3 247.9,427.3 246.4,423.2 247.1,429.4 248.5,433.5 250.1,437.5 251.8,441.6 253.8,445.6 255.8,449.7 258.0,453.7 260.4,457.7 263.0,461.8 265.7,465.8 268.5,469.8 271.6,473.7 274.7,477.7 278.1,481.6 281.6,485.6 285.3,489.5 289.1,493.4 293.1,497.2 297.2,501.1 301.5,504.9 306.0,508.6 310.6,512.4 315.4,516.1 320.3,519.8 325.4,523.4 330.7,527.1 336.1,530.6 341.6,534.2 347.3,537.7 353.2,541.1 359.2,544.6 365.4,547.9" fill="#E2434C"/>
<polygon points="83.3,444.9 82.1,439.5 81.2,434.1 80.4,428.7 79.9,423.3 79.5,417.9 79.4,412.6 79.4,407.2 79.7,401.9 80.1,396.6 80.8,391.3 81.6,386.1 82.6,380.8 83.8,375.6 85.2,370.4 86.8,365.3 88.6,360.2 90.5,355.1 92.6,350.0 94.9,345.0 97.4,340.0 100.0,335.0 102.8,330.1 105.7,325.2 108.8,320.4 112.1,315.6 115.6,310.8 119.2,306.1 122.9,301.4 126.8,296.8 130.8,292.2 135.0,287.7 136.9,303.1 132.8,307.7 128.7,312.3 124.9,317.0 121.1,321.7 117.6,326.4 114.1,331.2 110.9,336.0 107.8,340.9 104.8,345.8 102.1,350.8 99.4,355.8 97.0,360.8 94.7,365.9 92.6,370.9 90.7,376.1 89.0,381.2 87.4,386.4 86.0,391.6 84.8,396.9 83.8,402.1 83.0,407.4 82.4,412.7 81.9,418.1 81.7,423.4 81.6,428.8 81.8,434.2 82.1,439.6 82.7,445.0 83.4,450.5 84.4,455.9 85.6,461.4" fill="#D4C43A" stroke="#D4C43A" stroke-width="0.6"/>
<polygon points="246.4,423.2 245.2,419.2 244.0,415.1 243.1,411.1 242.3,407.0 241.6,403.0 241.1,398.9 240.8,394.9 240.6,390.9 240.5,386.9 240.6,382.9 240.9,378.9 241.3,374.9 241.8,371.0 242.5,367.0 243.3,363.1 244.3,359.2 245.4,355.3 246.6,351.4 248.0,347.5 249.5,343.7 251.2,339.9 252.9,336.1 254.9,332.3 256.9,328.6 259.1,324.9 261.4,321.2 263.8,317.5 266.4,313.9 269.1,310.3 271.9,306.7 274.8,303.1 276.2,318.7 273.3,322.2 270.6,325.8 267.9,329.5 265.3,333.1 262.9,336.8 260.6,340.5 258.5,344.3 256.4,348.1 254.5,351.8 252.7,355.7 251.1,359.5 249.6,363.4 248.2,367.2 247.0,371.1 245.9,375.1 244.9,379.0 244.1,383.0 243.4,386.9 242.9,390.9 242.5,394.9 242.3,398.9 242.2,403.0 242.2,407.0 242.4,411.0 242.8,415.1 243.3,419.1 244.0,423.2 244.8,427.3 245.7,431.4 246.8,435.4 248.1,439.5" fill="#D4C43A" stroke="#D4C43A" stroke-width="0.6"/>
<polygon points="83.3,444.9 82.1,439.5 81.2,434.1 80.4,428.7 79.9,423.3 79.5,417.9 79.4,412.6 79.4,407.2 79.7,401.9 80.1,396.6 80.8,391.3 81.6,386.1 82.6,380.8 83.8,375.6 85.2,370.4 86.8,365.3 88.6,360.2 90.5,355.1 92.6,350.0 94.9,345.0 97.4,340.0 100.0,335.0 102.8,330.1 105.7,325.2 108.8,320.4 112.1,315.6 115.6,310.8 119.2,306.1 122.9,301.4 126.8,296.8 130.8,292.2 135.0,287.7 135.8,293.5 131.6,298.1 127.5,302.7 123.6,307.3 119.9,312.0 116.3,316.8 112.9,321.5 109.6,326.4 106.5,331.2 103.6,336.1 100.8,341.0 98.1,346.0 95.7,351.0 93.4,356.0 91.3,361.1 89.4,366.2 87.6,371.4 86.1,376.5 84.7,381.7 83.5,386.9 82.5,392.2 81.6,397.4 81.0,402.7 80.5,408.1 80.3,413.4 80.2,418.7 80.4,424.1 80.7,429.5 81.3,434.9 82.0,440.3 83.0,445.8 84.2,451.2" fill="#E9DA55"/>
<polygon points="246.4,423.2 245.2,419.2 244.0,415.1 243.1,411.1 242.3,407.0 241.6,403.0 241.1,398.9 240.8,394.9 240.6,390.9 240.5,386.9 240.6,382.9 240.9,378.9 241.3,374.9 241.8,371.0 242.5,367.0 243.3,363.1 244.3,359.2 245.4,355.3 246.6,351.4 248.0,347.5 249.5,343.7 251.2,339.9 252.9,336.1 254.9,332.3 256.9,328.6 259.1,324.9 261.4,321.2 263.8,317.5 266.4,313.9 269.1,310.3 271.9,306.7 274.8,303.1 275.3,309.0 272.4,312.6 269.6,316.2 267.0,319.8 264.4,323.5 262.0,327.1 259.7,330.8 257.5,334.6 255.5,338.3 253.5,342.1 251.8,345.9 250.1,349.7 248.6,353.6 247.2,357.4 246.0,361.3 244.9,365.2 243.9,369.1 243.1,373.1 242.4,377.0 241.9,381.0 241.5,385.0 241.2,389.0 241.1,393.0 241.2,397.0 241.4,401.0 241.8,405.1 242.3,409.1 242.9,413.2 243.7,417.2 244.7,421.3 245.8,425.3 247.1,429.4" fill="#E9DA55"/>
<polygon points="135.0,287.7 139.4,283.2 143.8,278.7 148.5,274.3 153.2,269.9 158.1,265.6 163.1,261.3 168.3,257.1 173.5,253.0 178.9,248.8 184.5,244.8 190.1,240.8 195.9,236.8 201.7,232.9 207.7,229.0 213.8,225.2 220.0,221.5 226.4,217.8 232.8,214.1 239.3,210.6 246.0,207.0 252.7,203.6 259.5,200.1 266.4,196.8 273.4,193.5 280.5,190.2 287.7,187.0 295.0,183.9 302.4,180.8 309.8,177.8 317.4,174.8 325.0,171.9 326.2,186.5 318.6,189.5 311.1,192.4 303.6,195.5 296.3,198.6 289.1,201.7 281.9,205.0 274.8,208.2 267.8,211.6 260.9,215.0 254.1,218.4 247.4,221.9 240.8,225.5 234.3,229.1 227.9,232.7 221.6,236.5 215.4,240.2 209.3,244.1 203.4,247.9 197.5,251.9 191.8,255.9 186.1,259.9 180.6,264.0 175.3,268.2 170.0,272.4 164.9,276.6 159.9,280.9 155.0,285.2 150.3,289.6 145.7,294.1 141.2,298.6 136.9,303.1" fill="#2546B8" stroke="#2546B8" stroke-width="0.6"/>
<polygon points="274.8,303.1 277.8,299.6 281.0,296.1 284.2,292.7 287.6,289.2 291.1,285.9 294.7,282.5 298.4,279.2 302.3,275.9 306.2,272.6 310.2,269.4 314.3,266.3 318.6,263.1 322.9,260.0 327.3,257.0 331.9,253.9 336.5,250.9 341.2,248.0 346.0,245.1 350.9,242.2 355.8,239.4 360.9,236.6 366.1,233.9 371.3,231.2 376.6,228.5 382.0,225.9 387.5,223.3 393.0,220.8 398.6,218.3 404.3,215.9 410.1,213.5 415.9,211.2 416.9,226.0 411.1,228.4 405.3,230.8 399.6,233.3 394.0,235.8 388.5,238.3 383.1,240.9 377.7,243.5 372.4,246.2 367.2,248.9 362.1,251.7 357.0,254.5 352.0,257.3 347.2,260.2 342.4,263.1 337.7,266.1 333.1,269.1 328.6,272.2 324.2,275.2 319.9,278.4 315.6,281.5 311.5,284.7 307.5,288.0 303.6,291.2 299.8,294.5 296.1,297.9 292.5,301.3 289.0,304.7 285.7,308.1 282.4,311.6 279.3,315.1 276.2,318.7" fill="#2546B8" stroke="#2546B8" stroke-width="0.6"/>
<polygon points="135.0,287.7 139.4,283.2 143.8,278.7 148.5,274.3 153.2,269.9 158.1,265.6 163.1,261.3 168.3,257.1 173.5,253.0 178.9,248.8 184.5,244.8 190.1,240.8 195.9,236.8 201.7,232.9 207.7,229.0 213.8,225.2 220.0,221.5 226.4,217.8 232.8,214.1 239.3,210.6 246.0,207.0 252.7,203.6 259.5,200.1 266.4,196.8 273.4,193.5 280.5,190.2 287.7,187.0 295.0,183.9 302.4,180.8 309.8,177.8 317.4,174.8 325.0,171.9 325.4,177.5 317.8,180.4 310.3,183.4 302.9,186.4 295.5,189.5 288.2,192.6 281.1,195.8 274.0,199.1 267.0,202.4 260.0,205.8 253.2,209.2 246.5,212.7 239.9,216.2 233.4,219.8 226.9,223.5 220.6,227.2 214.4,230.9 208.3,234.8 202.4,238.6 196.5,242.5 190.7,246.5 185.1,250.5 179.6,254.6 174.2,258.7 168.9,262.9 163.8,267.2 158.8,271.4 153.9,275.8 149.2,280.1 144.5,284.5 140.1,289.0 135.8,293.5" fill="#3457CC"/>
<polygon points="274.8,303.1 277.8,299.6 281.0,296.1 284.2,292.7 287.6,289.2 291.1,285.9 294.7,282.5 298.4,279.2 302.3,275.9 306.2,272.6 310.2,269.4 314.3,266.3 318.6,263.1 322.9,260.0 327.3,257.0 331.9,253.9 336.5,250.9 341.2,248.0 346.0,245.1 350.9,242.2 355.8,239.4 360.9,236.6 366.1,233.9 371.3,231.2 376.6,228.5 382.0,225.9 387.5,223.3 393.0,220.8 398.6,218.3 404.3,215.9 410.1,213.5 415.9,211.2 416.3,216.8 410.4,219.2 404.7,221.6 399.0,224.0 393.4,226.5 387.9,229.0 382.4,231.6 377.0,234.2 371.7,236.9 366.5,239.6 361.3,242.4 356.3,245.1 351.3,248.0 346.4,250.9 341.6,253.8 336.9,256.7 332.3,259.7 327.8,262.7 323.4,265.8 319.1,268.9 314.8,272.1 310.7,275.3 306.7,278.5 302.8,281.7 299.0,285.0 295.2,288.4 291.7,291.7 288.2,295.1 284.8,298.6 281.5,302.0 278.4,305.5 275.3,309.0" fill="#3457CC"/>
<polygon points="325.0,171.9 332.6,169.1 340.4,166.3 348.2,163.5 356.1,160.9 364.1,158.3 372.1,155.7 380.2,153.2 388.4,150.8 396.6,148.4 404.9,146.1 413.3,143.8 421.7,141.6 430.1,139.5 438.7,137.4 447.2,135.4 455.8,133.5 464.5,131.6 473.2,129.7 482.0,128.0 490.8,126.2 499.6,124.6 508.5,123.0 517.4,121.5 526.4,120.0 535.4,118.6 544.4,117.2 553.4,115.9 562.5,114.7 571.7,113.5 580.8,112.4 590.0,111.4 623.2,161.7 616.0,162.6 608.7,163.5 601.5,164.5 594.3,165.5 587.2,166.6 580.1,167.7 573.0,168.8 565.9,170.0 558.9,171.3 551.9,172.6 544.9,174.0 538.0,175.4 531.1,176.8 524.3,178.3 517.5,179.9 510.8,181.5 504.1,183.1 497.4,184.8 490.8,186.6 484.3,188.4 477.8,190.2 471.3,192.1 464.9,194.0 458.6,196.0 452.3,198.0 446.1,200.1 439.9,202.2 433.8,204.4 427.8,206.6 421.8,208.9 415.9,211.2" fill="#DC5A60" stroke="#DC5A60" stroke-width="0.6"/>
<polygon points="590.0,111.4 599.2,110.4 608.4,109.5 617.6,108.6 626.9,107.8 636.2,107.1 645.5,106.4 654.8,105.7 664.1,105.2 673.5,104.7 682.8,104.2 692.2,103.9 701.6,103.6 711.0,103.3 720.3,103.1 729.7,103.0 739.1,102.9 748.5,102.9 757.9,102.9 767.3,103.0 776.7,103.2 786.1,103.4 795.5,103.7 804.9,104.1 814.2,104.5 823.6,105.0 833.0,105.5 842.3,106.1 851.6,106.8 860.9,107.5 870.2,108.2 879.5,109.1 853.2,159.8 845.8,159.1 838.5,158.5 831.1,157.9 823.7,157.4 816.2,156.9 808.8,156.4 801.4,156.0 793.9,155.7 786.5,155.4 779.0,155.2 771.5,155.0 764.1,154.8 756.6,154.8 749.1,154.7 741.7,154.7 734.2,154.8 726.7,154.9 719.3,155.1 711.8,155.3 704.3,155.5 696.9,155.9 689.5,156.2 682.0,156.6 674.6,157.1 667.2,157.6 659.9,158.2 652.5,158.8 645.2,159.4 637.8,160.2 630.5,160.9 623.2,161.7" fill="#E0D072" stroke="#E0D072" stroke-width="0.6"/>
<polygon points="879.5,109.1 888.7,110.0 898.0,110.9 907.2,112.0 916.4,113.0 925.5,114.2 934.7,115.4 943.8,116.6 952.8,118.0 961.9,119.4 970.9,120.8 979.9,122.3 988.8,123.9 997.7,125.5 1006.6,127.2 1015.4,128.9 1024.2,130.7 1032.9,132.6 1041.6,134.5 1050.2,136.5 1058.8,138.5 1067.3,140.6 1075.8,142.8 1084.3,145.0 1092.6,147.3 1101.0,149.6 1109.2,152.0 1117.4,154.5 1125.6,157.0 1133.6,159.6 1141.6,162.2 1149.6,164.9 1065.2,205.4 1059.1,203.2 1052.9,201.1 1046.6,199.0 1040.3,197.0 1033.9,195.0 1027.5,193.0 1021.0,191.1 1014.5,189.2 1007.9,187.4 1001.3,185.7 994.6,184.0 987.9,182.3 981.1,180.7 974.3,179.1 967.4,177.6 960.5,176.1 953.6,174.7 946.6,173.3 939.6,171.9 932.6,170.7 925.5,169.4 918.4,168.2 911.3,167.1 904.1,166.0 896.9,165.0 889.7,164.0 882.4,163.1 875.1,162.2 867.8,161.3 860.5,160.5 853.2,159.8" fill="#7287CC" stroke="#7287CC" stroke-width="0.6"/>
<polygon points="1149.6,164.9 1157.4,167.7 1165.2,170.5 1173.0,173.4 1180.6,176.3 1188.2,179.3 1195.7,182.3 1203.1,185.4 1210.4,188.6 1217.6,191.8 1224.8,195.0 1231.8,198.4 1238.8,201.7 1245.7,205.2 1252.5,208.7 1259.2,212.2 1265.7,215.8 1272.2,219.5 1278.6,223.2 1284.9,226.9 1291.0,230.8 1297.1,234.6 1303.0,238.5 1308.9,242.5 1314.6,246.5 1320.2,250.6 1325.6,254.7 1331.0,258.9 1336.2,263.1 1341.3,267.4 1346.3,271.7 1351.1,276.1 1216.3,294.0 1212.9,290.6 1209.3,287.2 1205.7,283.8 1201.9,280.5 1198.0,277.2 1194.0,274.0 1189.9,270.7 1185.7,267.6 1181.4,264.4 1177.1,261.3 1172.6,258.2 1168.0,255.2 1163.3,252.2 1158.6,249.3 1153.7,246.3 1148.8,243.5 1143.7,240.6 1138.6,237.8 1133.4,235.1 1128.2,232.4 1122.8,229.7 1117.4,227.1 1111.9,224.5 1106.3,222.0 1100.6,219.5 1094.9,217.0 1089.1,214.6 1083.2,212.2 1077.3,209.9 1071.3,207.6 1065.2,205.4" fill="#E6757A" stroke="#E6757A" stroke-width="0.6"/>
<polygon points="1351.1,276.1 1355.8,280.5 1360.3,284.9 1364.8,289.4 1369.0,294.0 1373.2,298.6 1377.1,303.2 1381.0,307.9 1384.7,312.6 1388.2,317.4 1391.6,322.2 1394.8,327.0 1397.8,331.9 1400.7,336.8 1403.4,341.8 1406.0,346.7 1408.4,351.8 1410.6,356.8 1412.6,361.9 1414.5,367.0 1416.2,372.1 1417.7,377.3 1419.0,382.5 1420.2,387.7 1421.1,393.0 1421.9,398.2 1422.4,403.5 1422.8,408.8 1423.0,414.2 1423.0,419.5 1422.8,424.9 1422.3,430.2 1260.1,412.3 1260.8,408.2 1261.3,404.2 1261.7,400.2 1262.0,396.2 1262.1,392.2 1262.1,388.2 1261.9,384.2 1261.5,380.2 1261.1,376.2 1260.4,372.3 1259.7,368.3 1258.7,364.4 1257.7,360.5 1256.5,356.6 1255.2,352.7 1253.7,348.9 1252.1,345.0 1250.4,341.2 1248.5,337.4 1246.5,333.7 1244.4,329.9 1242.1,326.2 1239.7,322.5 1237.2,318.9 1234.6,315.2 1231.9,311.6 1229.0,308.0 1226.0,304.5 1222.9,301.0 1219.7,297.5 1216.3,294.0" fill="#E6D878" stroke="#E6D878" stroke-width="0.6"/>
<polygon points="1422.3,430.2 1421.7,435.6 1420.9,441.0 1419.8,446.4 1418.6,451.8 1417.2,457.3 1415.5,462.7 1413.6,468.1 1411.5,473.5 1409.2,479.0 1406.7,484.4 1403.9,489.8 1401.0,495.2 1397.8,500.6 1394.4,506.0 1390.8,511.4 1386.9,516.7 1382.9,522.0 1378.6,527.4 1374.1,532.7 1369.3,537.9 1364.4,543.2 1359.2,548.4 1353.8,553.6 1348.1,558.7 1342.3,563.8 1336.2,568.9 1329.9,573.9 1323.3,578.9 1316.6,583.9 1309.6,588.8 1302.4,593.6 1159.5,532.0 1165.2,528.5 1170.6,525.0 1175.9,521.5 1181.1,517.9 1186.1,514.2 1190.9,510.6 1195.6,506.9 1200.1,503.2 1204.5,499.4 1208.7,495.6 1212.7,491.8 1216.6,488.0 1220.3,484.1 1223.9,480.2 1227.3,476.3 1230.6,472.4 1233.6,468.5 1236.6,464.5 1239.3,460.5 1241.9,456.6 1244.4,452.6 1246.7,448.6 1248.8,444.5 1250.7,440.5 1252.5,436.5 1254.2,432.5 1255.7,428.4 1257.0,424.4 1258.2,420.3 1259.2,416.3 1260.1,412.3" fill="#6E87D2" stroke="#6E87D2" stroke-width="0.6"/>
<polygon points="1302.4,593.6 1295.0,598.4 1287.4,603.2 1279.5,607.9 1271.5,612.5 1263.2,617.1 1254.7,621.6 1246.0,626.0 1237.1,630.4 1228.0,634.6 1218.7,638.9 1209.2,643.0 1199.5,647.1 1189.7,651.1 1179.6,655.0 1169.3,658.8 1158.9,662.5 1148.2,666.1 1137.4,669.7 1126.5,673.1 1115.3,676.5 1104.0,679.8 1092.6,682.9 1080.9,686.0 1069.2,688.9 1057.3,691.8 1045.2,694.5 1033.0,697.2 1020.7,699.7 1008.3,702.1 995.7,704.4 983.0,706.6 920.3,611.5 929.6,610.0 938.8,608.4 947.9,606.8 957.0,605.0 966.0,603.2 974.9,601.3 983.6,599.3 992.3,597.2 1000.9,595.1 1009.4,592.9 1017.8,590.6 1026.1,588.3 1034.3,585.8 1042.4,583.4 1050.3,580.8 1058.1,578.2 1065.8,575.5 1073.4,572.8 1080.9,570.0 1088.2,567.1 1095.4,564.2 1102.4,561.2 1109.3,558.1 1116.1,555.0 1122.7,551.9 1129.2,548.7 1135.6,545.5 1141.8,542.2 1147.9,538.8 1153.8,535.4 1159.5,532.0" fill="#EC7277" stroke="#EC7277" stroke-width="0.6"/>
<polygon points="983.0,706.6 970.2,708.6 957.3,710.6 944.4,712.4 931.3,714.1 918.1,715.7 904.9,717.1 891.6,718.5 878.2,719.7 864.7,720.7 851.2,721.7 837.7,722.5 824.1,723.2 810.5,723.8 796.8,724.3 783.2,724.6 769.5,724.8 755.8,724.8 742.1,724.7 728.4,724.5 714.7,724.2 701.0,723.7 687.4,723.2 673.8,722.4 660.2,721.6 646.7,720.6 633.2,719.5 619.8,718.3 606.4,717.0 593.1,715.5 579.9,713.9 566.7,712.2 617.0,615.3 626.6,616.5 636.2,617.6 645.9,618.7 655.6,619.6 665.4,620.4 675.2,621.2 685.1,621.9 695.0,622.5 704.9,623.0 714.8,623.4 724.7,623.7 734.7,623.9 744.6,624.1 754.6,624.1 764.6,624.1 774.5,624.0 784.5,623.7 794.4,623.4 804.3,623.0 814.2,622.6 824.0,622.0 833.9,621.3 843.7,620.6 853.4,619.7 863.1,618.8 872.8,617.8 882.4,616.7 892.0,615.6 901.5,614.3 910.9,613.0 920.3,611.5" fill="#EEDF72" stroke="#EEDF72" stroke-width="0.6"/>
<polygon points="566.7,712.2 553.7,710.3 540.7,708.4 527.9,706.3 515.1,704.1 502.5,701.8 490.0,699.4 477.5,696.8 465.3,694.2 453.1,691.4 441.1,688.6 429.2,685.6 417.5,682.5 406.0,679.3 394.5,676.0 383.3,672.7 372.2,669.2 361.3,665.6 350.5,662.0 340.0,658.2 329.6,654.4 319.4,650.5 309.4,646.5 299.5,642.4 289.9,638.2 280.5,634.0 271.2,629.6 262.2,625.3 253.4,620.8 244.7,616.3 236.3,611.7 228.1,607.0 364.8,541.4 371.1,544.8 377.6,548.0 384.2,551.2 390.9,554.4 397.8,557.5 404.8,560.6 411.9,563.6 419.2,566.5 426.6,569.4 434.2,572.2 441.8,575.0 449.6,577.7 457.5,580.3 465.5,582.9 473.7,585.4 481.9,587.8 490.3,590.2 498.7,592.5 507.3,594.7 516.0,596.8 524.7,598.9 533.6,600.9 542.6,602.8 551.6,604.7 560.7,606.5 569.9,608.1 579.2,609.7 588.5,611.3 597.9,612.7 607.4,614.1 617.0,615.3" fill="#4A6CC8" stroke="#4A6CC8" stroke-width="0.6"/>
<polygon points="228.1,607.0 220.1,602.3 212.3,597.6 204.8,592.7 197.4,587.9 190.3,582.9 183.4,578.0 176.7,573.0 170.3,567.9 164.1,562.8 158.0,557.7 152.3,552.5 146.7,547.3 141.4,542.0 136.2,536.8 131.4,531.5 126.7,526.2 122.3,520.8 118.0,515.5 114.0,510.1 110.3,504.7 106.7,499.3 103.4,493.9 100.3,488.4 97.4,483.0 94.8,477.6 92.3,472.1 90.1,466.7 88.1,461.2 86.3,455.8 84.7,450.4 83.3,444.9 246.4,423.2 247.9,427.3 249.5,431.3 251.2,435.3 253.1,439.4 255.2,443.4 257.4,447.4 259.8,451.5 262.3,455.5 265.0,459.5 267.9,463.5 270.9,467.4 274.1,471.4 277.5,475.3 281.0,479.2 284.7,483.1 288.5,487.0 292.5,490.9 296.6,494.7 300.9,498.5 305.4,502.3 310.0,506.0 314.8,509.7 319.8,513.4 324.9,517.0 330.1,520.6 335.5,524.2 341.1,527.7 346.8,531.2 352.7,534.7 358.7,538.1 364.8,541.4" fill="#DE4F55" stroke="#DE4F55" stroke-width="0.6"/>
<polygon points="83.3,444.9 82.1,439.5 81.2,434.1 80.4,428.7 79.9,423.3 79.5,417.9 79.4,412.6 79.4,407.2 79.7,401.9 80.1,396.6 80.8,391.3 81.6,386.1 82.6,380.8 83.8,375.6 85.2,370.4 86.8,365.3 88.6,360.2 90.5,355.1 92.6,350.0 94.9,345.0 97.4,340.0 100.0,335.0 102.8,330.1 105.7,325.2 108.8,320.4 112.1,315.6 115.6,310.8 119.2,306.1 122.9,301.4 126.8,296.8 130.8,292.2 135.0,287.7 274.8,303.1 271.9,306.7 269.1,310.3 266.4,313.9 263.8,317.5 261.4,321.2 259.1,324.9 256.9,328.6 254.9,332.3 252.9,336.1 251.2,339.9 249.5,343.7 248.0,347.5 246.6,351.4 245.4,355.3 244.3,359.2 243.3,363.1 242.5,367.0 241.8,371.0 241.3,374.9 240.9,378.9 240.6,382.9 240.5,386.9 240.6,390.9 240.8,394.9 241.1,398.9 241.6,403.0 242.3,407.0 243.1,411.1 244.0,415.1 245.2,419.2 246.4,423.2" fill="#DCC953" stroke="#DCC953" stroke-width="0.6"/>
<polygon points="135.0,287.7 139.4,283.2 143.8,278.7 148.5,274.3 153.2,269.9 158.1,265.6 163.1,261.3 168.3,257.1 173.5,253.0 178.9,248.8 184.5,244.8 190.1,240.8 195.9,236.8 201.7,232.9 207.7,229.0 213.8,225.2 220.0,221.5 226.4,217.8 232.8,214.1 239.3,210.6 246.0,207.0 252.7,203.6 259.5,200.1 266.4,196.8 273.4,193.5 280.5,190.2 287.7,187.0 295.0,183.9 302.4,180.8 309.8,177.8 317.4,174.8 325.0,171.9 415.9,211.2 410.1,213.5 404.3,215.9 398.6,218.3 393.0,220.8 387.5,223.3 382.0,225.9 376.6,228.5 371.3,231.2 366.1,233.9 360.9,236.6 355.8,239.4 350.9,242.2 346.0,245.1 341.2,248.0 336.5,250.9 331.9,253.9 327.3,257.0 322.9,260.0 318.6,263.1 314.3,266.3 310.2,269.4 306.2,272.6 302.3,275.9 298.4,279.2 294.7,282.5 291.1,285.9 287.6,289.2 284.2,292.7 281.0,296.1 277.8,299.6 274.8,303.1" fill="#4562BE" stroke="#4562BE" stroke-width="0.6"/>
<polyline points="325.0,171.9 415.9,211.2" fill="none" stroke="#C42A36" stroke-width="1.4"/>
<polyline points="415.9,211.2 416.9,226.0" fill="none" stroke="#C42A36" stroke-width="1.2"/>
<polyline points="590.0,111.4 623.2,161.7" fill="none" stroke="#F0A050" stroke-width="1.4"/>
<polyline points="623.2,161.7 623.5,176.3" fill="none" stroke="#F0A050" stroke-width="1.2"/>
<polyline points="879.5,109.1 853.2,159.8" fill="none" stroke="#2A48B8" stroke-width="1.4"/>
<polyline points="853.2,159.8 852.8,174.3" fill="none" stroke="#2A48B8" stroke-width="1.2"/>
<polyline points="1149.6,164.9 1065.2,205.4" fill="none" stroke="#2242B8" stroke-width="1.4"/>
<polyline points="1065.2,205.4 1064.2,220.2" fill="none" stroke="#2242B8" stroke-width="1.2"/>
<polyline points="1351.1,276.1 1216.3,294.0" fill="none" stroke="#D83840" stroke-width="1.4"/>
<polyline points="1216.3,294.0 1214.8,309.4" fill="none" stroke="#D83840" stroke-width="1.2"/>
<polyline points="1422.3,430.2 1260.1,412.3" fill="none" stroke="#D8C860" stroke-width="1.4"/>
<polyline points="1422.3,430.2 1419.9,446.5" fill="none" stroke="#D8C860" stroke-width="1.2"/>
<polyline points="1302.4,593.6 1159.5,532.0" fill="none" stroke="#1F3FB8" stroke-width="1.4"/>
<polyline points="1302.4,593.6 1300.2,610.9" fill="none" stroke="#1F3FB8" stroke-width="1.2"/>
<polyline points="983.0,706.6 920.3,611.5" fill="none" stroke="#E83442" stroke-width="1.4"/>
<polyline points="983.0,706.6 982.0,724.4" fill="none" stroke="#E83442" stroke-width="1.2"/>
<polyline points="566.7,712.2 617.0,615.3" fill="none" stroke="#2A4AC0" stroke-width="1.4"/>
<polyline points="566.7,712.2 567.4,730.1" fill="none" stroke="#2A4AC0" stroke-width="1.2"/>
<polyline points="228.1,607.0 364.8,541.4" fill="none" stroke="#F04A3A" stroke-width="1.4"/>
<polyline points="228.1,607.0 230.0,624.4" fill="none" stroke="#F04A3A" stroke-width="1.2"/>
<polyline points="83.3,444.9 246.4,423.2" fill="none" stroke="#F0A040" stroke-width="1.4"/>
<polyline points="83.3,444.9 85.6,461.4" fill="none" stroke="#F0A040" stroke-width="1.2"/>
<polyline points="135.0,287.7 274.8,303.1" fill="none" stroke="#2F4FB8" stroke-width="1.4"/>
<polyline points="274.8,303.1 276.2,318.7" fill="none" stroke="#2F4FB8" stroke-width="1.2"/>
<rect x="66.3" y="2.0" width="4" height="136.0" fill="#000"/>
<rect x="1444.4" y="2.0" width="4" height="135.3" fill="#000"/>
<rect x="96.3" y="68.0" width="1324.1" height="5" fill="#000"/><path d="M72.7 70.5L97.3 58.0L97.3 83.0Z" fill="#000"/><path d="M1444.0 70.5L1419.4 58.0L1419.4 83.0Z" fill="#000"/>
<rect x="256.2" y="367.0" width="4" height="68.6" fill="#000"/>
<rect x="1258.3" y="365.7" width="4" height="68.3" fill="#000"/>
<rect x="1278.2" y="365.7" width="4" height="68.3" fill="#000"/>
<rect x="285.4" y="398.7" width="946.6" height="5" fill="#000"/><path d="M261.4 401.2L286.4 389.2L286.4 413.2Z" fill="#000"/><path d="M1256.0 401.2L1231.0 389.2L1231.0 413.2Z" fill="#000"/>
<rect x="1433.2" y="367.5" width="4" height="68.5" fill="#000"/>
<rect x="1308.7" y="398.2" width="98.1" height="5" fill="#000"/><path d="M1286.7 400.7L1309.7 388.7L1309.7 412.7Z" fill="#000"/><path d="M1428.8 400.7L1405.8 388.7L1405.8 412.7Z" fill="#000"/>
<rect x="1340.0" y="587.4" width="4" height="69.2" fill="#000"/>
<rect x="1494.2" y="587.4" width="4" height="69.2" fill="#000"/>
<rect x="1370.4" y="606.7" width="98.3" height="5" fill="#000"/><path d="M1348.7 609.2L1371.4 597.0L1371.4 621.4Z" fill="#000"/><path d="M1490.4 609.2L1467.7 597.0L1467.7 621.4Z" fill="#000"/>
<rect x="46.7" y="391" width="30" height="3.7" fill="#000"/><rect x="45.3" y="444" width="30.4" height="3.7" fill="#000"/>
<path d="M60.3 396.7L72.7 416L48.3 416Z" fill="#000"/><path d="M60.3 442L72.7 423L48.3 423Z" fill="#000"/><rect x="58" y="415" width="4.7" height="9" fill="#000"/>
<rect x="1282" y="442.4" width="153.2" height="57.4" rx="8.5" ry="8.5" fill="#fff" stroke="#000" stroke-width="2.2"/>
<rect x="1317.9" y="457.6" width="84.8" height="21.9" fill="#e4e4e4"/><path d="M1318.5 457.6L1317.5 471.2M1322.0 457.6L1321.0 471.2M1325.6 457.6L1324.6 471.2M1329.1 457.6L1328.1 471.2M1332.6 457.6L1331.6 471.2M1336.2 457.6L1335.2 471.2M1339.7 457.6L1338.7 471.2M1343.2 457.6L1342.2 471.2M1346.8 457.6L1345.8 471.2M1350.3 457.6L1349.3 471.2M1353.8 457.6L1352.8 471.2M1357.4 457.6L1356.4 471.2M1360.9 457.6L1359.9 471.2M1364.4 457.6L1363.4 471.2M1368.0 457.6L1367.0 471.2M1371.5 457.6L1370.5 471.2M1375.0 457.6L1374.0 471.2M1378.6 457.6L1377.6 471.2M1382.1 457.6L1381.1 471.2M1385.6 457.6L1384.6 471.2M1389.2 457.6L1388.2 471.2M1392.7 457.6L1391.7 471.2M1396.2 457.6L1395.2 471.2M1399.8 457.6L1398.8 471.2M1403.3 457.6L1402.3 471.2" stroke="#707070" stroke-width="1.2" fill="none"/><path d="M1319.7 471.2L1319.1 479.5M1323.2 471.2L1322.6 479.5M1326.7 471.2L1326.1 479.5M1330.3 471.2L1329.7 479.5M1333.8 471.2L1333.2 479.5M1337.3 471.2L1336.7 479.5M1340.9 471.2L1340.3 479.5M1344.4 471.2L1343.8 479.5M1347.9 471.2L1347.3 479.5M1351.5 471.2L1350.9 479.5M1355.0 471.2L1354.4 479.5M1358.5 471.2L1357.9 479.5M1362.1 471.2L1361.5 479.5M1365.6 471.2L1365.0 479.5M1369.1 471.2L1368.5 479.5M1372.7 471.2L1372.1 479.5M1376.2 471.2L1375.6 479.5M1379.7 471.2L1379.1 479.5M1383.3 471.2L1382.7 479.5M1386.8 471.2L1386.2 479.5M1390.3 471.2L1389.7 479.5M1393.9 471.2L1393.3 479.5M1397.4 471.2L1396.8 479.5M1400.9 471.2L1400.3 479.5M1404.5 471.2L1403.9 479.5" stroke="#5c5c5c" stroke-width="1.3" fill="none"/><path d="M1318.9 460.6L1313.9 458.2L1297.2 458.2A10.3 10.3 0 1 0 1307.0 471.5" fill="none" stroke="#666" stroke-width="1.8" stroke-linecap="round" stroke-linejoin="round"/><path d="M1401.7 459.6L1421.0 458.5A10.5 10.5 0 1 1 1418.5 479.2" fill="none" stroke="#666" stroke-width="1.8" stroke-linecap="round" stroke-linejoin="round"/>
<rect x="1373.0" y="665.3" width="92.3" height="23.7" fill="#e4e4e4"/><path d="M1373.6 665.3L1372.6 680.0M1377.1 665.3L1376.1 680.0M1380.7 665.3L1379.7 680.0M1384.2 665.3L1383.2 680.0M1387.8 665.3L1386.8 680.0M1391.3 665.3L1390.3 680.0M1394.9 665.3L1393.9 680.0M1398.4 665.3L1397.4 680.0M1402.0 665.3L1401.0 680.0M1405.5 665.3L1404.5 680.0M1409.1 665.3L1408.1 680.0M1412.6 665.3L1411.6 680.0M1416.2 665.3L1415.2 680.0M1419.8 665.3L1418.8 680.0M1423.3 665.3L1422.3 680.0M1426.8 665.3L1425.8 680.0M1430.4 665.3L1429.4 680.0M1433.9 665.3L1432.9 680.0M1437.5 665.3L1436.5 680.0M1441.0 665.3L1440.0 680.0M1444.6 665.3L1443.6 680.0M1448.1 665.3L1447.1 680.0M1451.7 665.3L1450.7 680.0M1455.2 665.3L1454.2 680.0M1458.8 665.3L1457.8 680.0M1462.3 665.3L1461.3 680.0M1465.9 665.3L1464.9 680.0" stroke="#707070" stroke-width="1.2" fill="none"/><path d="M1374.8 680.0L1374.2 689.0M1378.3 680.0L1377.7 689.0M1381.9 680.0L1381.3 689.0M1385.4 680.0L1384.8 689.0M1389.0 680.0L1388.4 689.0M1392.5 680.0L1391.9 689.0M1396.1 680.0L1395.5 689.0M1399.6 680.0L1399.0 689.0M1403.2 680.0L1402.6 689.0M1406.7 680.0L1406.1 689.0M1410.3 680.0L1409.7 689.0M1413.8 680.0L1413.2 689.0M1417.4 680.0L1416.8 689.0M1420.9 680.0L1420.3 689.0M1424.5 680.0L1423.9 689.0M1428.0 680.0L1427.4 689.0M1431.6 680.0L1431.0 689.0M1435.1 680.0L1434.5 689.0M1438.7 680.0L1438.1 689.0M1442.2 680.0L1441.6 689.0M1445.8 680.0L1445.2 689.0M1449.3 680.0L1448.7 689.0M1452.9 680.0L1452.3 689.0M1456.4 680.0L1455.8 689.0M1460.0 680.0L1459.4 689.0M1463.5 680.0L1462.9 689.0M1467.1 680.0L1466.5 689.0" stroke="#5c5c5c" stroke-width="1.3" fill="none"/><path d="M1374.0 668.3L1369.0 665.7L1351.0 665.7A10.3 10.3 0 1 0 1360.8 679.0" fill="none" stroke="#666" stroke-width="2.2" stroke-linecap="round" stroke-linejoin="round"/><path d="M1464.3 667.3L1486.0 669.5A10.0 10.0 0 1 1 1483.6 689.2" fill="none" stroke="#666" stroke-width="2.2" stroke-linecap="round" stroke-linejoin="round"/>
</svg>
<div class="l" style="left:12.6px;top:812.0px;width:1481.4px;height:4.0px"></div><div class="l" style="left:12.6px;top:865.0px;width:1481.4px;height:4.0px"></div><div class="l" style="left:12.6px;top:812.0px;width:4.0px;height:57.0px"></div><div class="l" style="left:213.0px;top:812.0px;width:4.0px;height:57.0px"></div><div class="l" style="left:429.0px;top:812.0px;width:4.0px;height:57.0px"></div><div class="l" style="left:652.0px;top:812.0px;width:4.0px;height:57.0px"></div><div class="l" style="left:877.6px;top:812.0px;width:4.0px;height:57.0px"></div><div class="l" style="left:1094.0px;top:812.0px;width:4.0px;height:57.0px"></div><div class="l" style="left:1293.0px;top:812.0px;width:4.0px;height:57.0px"></div><div class="l" style="left:1490.0px;top:812.0px;width:4.0px;height:57.0px"></div><div class="l" style="left:12.6px;top:887.0px;width:1481.4px;height:4.0px"></div><div class="l" style="left:12.6px;top:1042.7px;width:1481.4px;height:4.0px"></div><div class="l" style="left:12.6px;top:1427.7px;width:1481.4px;height:4.0px"></div><div class="l" style="left:12.6px;top:1107.7px;width:869.0px;height:4.0px"></div><div class="l" style="left:12.6px;top:1170.5px;width:869.0px;height:4.0px"></div><div class="l" style="left:12.6px;top:1235.0px;width:869.0px;height:4.0px"></div><div class="l" style="left:12.6px;top:1300.0px;width:869.0px;height:4.0px"></div><div class="l" style="left:12.6px;top:1364.0px;width:869.0px;height:4.0px"></div><div class="l" style="left:12.6px;top:887.0px;width:4.0px;height:544.7px"></div><div class="l" style="left:213.0px;top:887.0px;width:4.0px;height:544.7px"></div><div class="l" style="left:429.0px;top:887.0px;width:4.0px;height:544.7px"></div><div class="l" style="left:652.0px;top:887.0px;width:4.0px;height:544.7px"></div><div class="l" style="left:877.6px;top:887.0px;width:4.0px;height:544.7px"></div><div class="l" style="left:1094.0px;top:887.0px;width:4.0px;height:544.7px"></div><div class="l" style="left:1293.0px;top:887.0px;width:4.0px;height:544.7px"></div><div class="l" style="left:1490.0px;top:887.0px;width:4.0px;height:544.7px"></div>
<div class="t" style="left:307.3px;top:819.8px;font-size:42px">A</div><div class="t" style="left:536.2px;top:819.2px;font-size:42px">B</div><div class="t" style="left:753.8px;top:819.5px;font-size:42px">C</div><div class="t" style="left:972.0px;top:819.5px;font-size:42px">D</div><div class="t" style="left:1177.2px;top:819.5px;font-size:42px">E</div><div class="t" style="left:62.5px;top:897.0px;font-size:33px">SIZE</div><div class="t" style="left:233.1px;top:898.5px;font-size:33px">FIT OUTER</div><div class="t" style="left:261.4px;top:950.0px;font-size:33px">FRAME</div><div class="t" style="left:231.6px;top:1001.3px;font-size:33px">DIAMETER</div><div class="t" style="left:449.5px;top:899.0px;font-size:33px">FIT SPRING</div><div class="t" style="left:477.9px;top:950.0px;font-size:33px">LENGTH</div><div class="t" style="left:664.0px;top:898.0px;font-size:33px">FIT JUMPING</div><div class="t" style="left:731.5px;top:950.0px;font-size:33px">MAT</div><div class="t" style="left:681.5px;top:1002.4px;font-size:33px">DIAMETER</div><div class="t" style="left:895.4px;top:897.7px;font-size:33px">PAD WIDTH</div><div class="t" style="left:1103.5px;top:898.0px;font-size:33px">SIDE SKIRT</div><div class="t" style="left:1144.5px;top:950.0px;font-size:33px">WIDTH</div><div class="t" style="left:1330.8px;top:897.0px;font-size:33px">Padded</div><div class="t" style="left:1340.8px;top:949.5px;font-size:33px">Foam</div><div class="t" style="left:1313.0px;top:1002.0px;font-size:33px">Thickness</div><div class="t" style="left:56.9px;top:1064.3px;font-size:33px">8 FEET</div><div class="t" style="left:38.9px;top:1125.6px;font-size:33px">10 FEET</div><div class="t" style="left:38.7px;top:1185.3px;font-size:33px">12 FEET</div><div class="t" style="left:38.9px;top:1253.6px;font-size:33px">14 FEET</div><div class="t" style="left:38.3px;top:1314.4px;font-size:33px">15 FEET</div><div class="t" style="left:37.4px;top:1382.6px;font-size:33px">16 FEET</div><div class="t" style="left:298.4px;top:1063.1px;font-size:33px">8'</div><div class="t" style="left:288.8px;top:1125.3px;font-size:33px">10'</div><div class="t" style="left:288.8px;top:1186.3px;font-size:33px">12'</div><div class="t" style="left:289.8px;top:1252.3px;font-size:33px">14'</div><div class="t" style="left:287.9px;top:1318.3px;font-size:33px">15'</div><div class="t" style="left:288.8px;top:1384.9px;font-size:33px">16'</div><div class="t" style="left:514.5px;top:1063.0px;font-size:33px">5.5"</div><div class="t" style="left:514.5px;top:1125.3px;font-size:33px">5.5"</div><div class="t" style="left:514.5px;top:1187.0px;font-size:33px">5.5"</div><div class="t" style="left:514.5px;top:1253.7px;font-size:33px">5.5"</div><div class="t" style="left:514.5px;top:1318.3px;font-size:33px">5.5"</div><div class="t" style="left:527.3px;top:1383.4px;font-size:33px">7"</div><div class="t" style="left:739.6px;top:1063.0px;font-size:33px">6.6'</div><div class="t" style="left:740.1px;top:1126.8px;font-size:33px">8.6'</div><div class="t" style="left:730.0px;top:1189.0px;font-size:33px">10.6'</div><div class="t" style="left:730.0px;top:1254.6px;font-size:33px">12.7'</div><div class="t" style="left:730.0px;top:1317.2px;font-size:33px">13.6'</div><div class="t" style="left:730.0px;top:1383.6px;font-size:33px">14.3'</div><div class="t" style="left:960.8px;top:1254.5px;font-size:33px">12"</div><div class="t" style="left:1195.0px;top:1253.0px;font-size:33px">4"</div><div class="t" style="left:1379.2px;top:1252.0px;font-size:33px">0.6"</div><div class="t" style="left:736.6px;top:-5.0px;font-size:54px">A</div><div class="t" style="left:732.6px;top:331.7px;font-size:54px">C</div><div class="t" style="left:1336.9px;top:332.1px;font-size:54px">D</div><div class="t" style="left:1404.4px;top:550.9px;font-size:53px">B</div><div class="t" style="left:-2.5px;top:391.0px;font-size:54px">E</div>
</body></html>
